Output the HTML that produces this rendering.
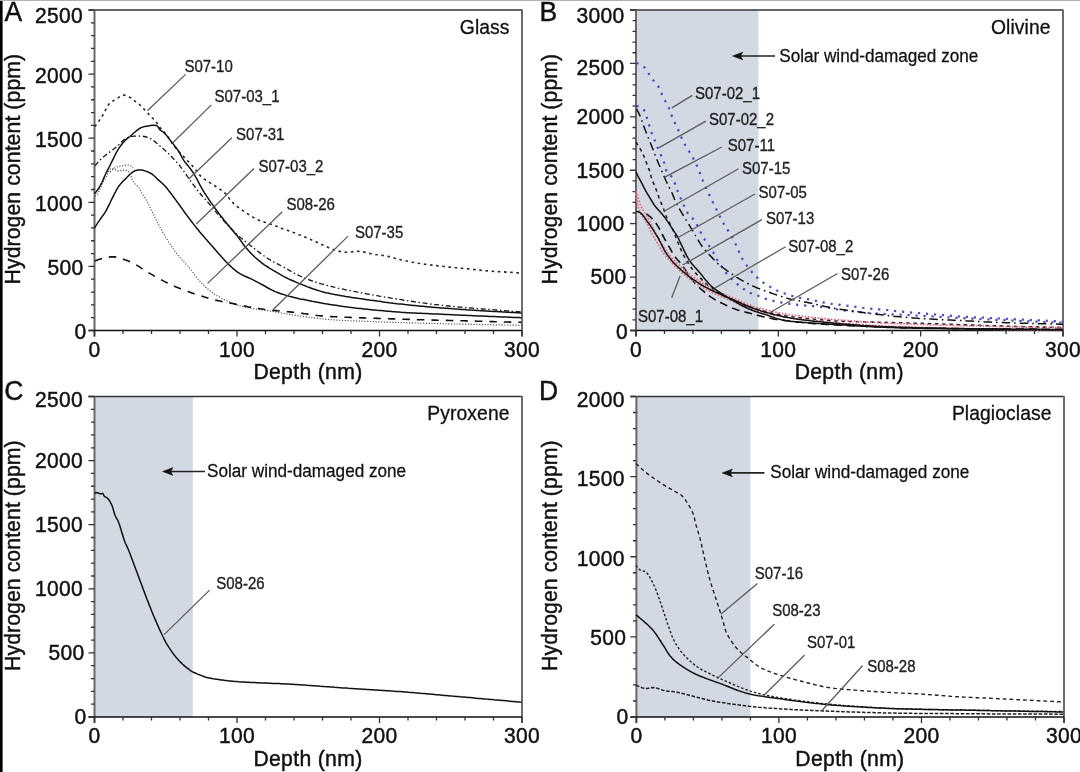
<!DOCTYPE html>
<html><head><meta charset="utf-8"><style>
html,body{margin:0;padding:0;background:#fff;}
body{width:1080px;height:772px;overflow:hidden;}
svg{display:block;}
text{font-family:"Liberation Sans", Arial, sans-serif;fill:#111;stroke:#111;stroke-width:0.45px;}
.tl{font-size:21px;letter-spacing:0.35px;}
.at{font-size:21.2px;letter-spacing:0.1px;}
.pn{font-size:19.3px;letter-spacing:0.1px;stroke-width:0.3px;}
.dx{letter-spacing:0.32px;}
.pl{font-size:26.5px;}
.sl{font-size:15px;fill:#222;stroke:#222;stroke-width:0.3px;}
.sw{font-size:17.15px;stroke-width:0.25px;}
</style></head><body>
<svg width="1080" height="772" viewBox="0 0 1080 772">
<rect x="0" y="0" width="1080" height="772" fill="#fff"/>
<rect x="0" y="0" width="1080" height="1" fill="#b2b2b2"/>
<rect x="0" y="1" width="2.6" height="772" fill="#000"/>
<path d="M88.5,10.0H522.0" fill="none" stroke="#333" stroke-width="1.3"/>
<path d="M522.0,9.4V336.5" fill="none" stroke="#6c6c6c" stroke-width="2"/>
<path d="M94.5,9.4V336.5" stroke="#686868" stroke-width="2"/>
<path d="M88.5,330.5H522.0" stroke="#111" stroke-width="1.3"/>
<path d="M88.5,330.50H94.5 M91.0,317.68H94.5 M91.0,304.86H94.5 M91.0,292.04H94.5 M91.0,279.22H94.5 M88.5,266.40H94.5 M91.0,253.58H94.5 M91.0,240.76H94.5 M91.0,227.94H94.5 M91.0,215.12H94.5 M88.5,202.30H94.5 M91.0,189.48H94.5 M91.0,176.66H94.5 M91.0,163.84H94.5 M91.0,151.02H94.5 M88.5,138.20H94.5 M91.0,125.38H94.5 M91.0,112.56H94.5 M91.0,99.74H94.5 M91.0,86.92H94.5 M88.5,74.10H94.5 M91.0,61.28H94.5 M91.0,48.46H94.5 M91.0,35.64H94.5 M91.0,22.82H94.5 M88.5,10.00H94.5" stroke="#333" stroke-width="1.3"/>
<path d="M94.50,330.5V336.5 M123.00,330.5V334.0 M151.50,330.5V334.0 M180.00,330.5V334.0 M208.50,330.5V334.0 M237.00,330.5V336.5 M265.50,330.5V334.0 M294.00,330.5V334.0 M322.50,330.5V334.0 M351.00,330.5V334.0 M379.50,330.5V336.5 M408.00,330.5V334.0 M436.50,330.5V334.0 M465.00,330.5V334.0 M493.50,330.5V334.0 M522.00,330.5V336.5" stroke="#333" stroke-width="1.3"/>
<text transform="translate(86.60,338.55) scale(1,1.05)" text-anchor="end" class="tl">0</text>
<text transform="translate(83.60,275.30) scale(1,1.05)" text-anchor="end" class="tl">500</text>
<text transform="translate(83.00,211.20) scale(1,1.05)" text-anchor="end" class="tl">1000</text>
<text transform="translate(83.00,147.10) scale(1,1.05)" text-anchor="end" class="tl">1500</text>
<text transform="translate(83.00,83.00) scale(1,1.05)" text-anchor="end" class="tl">2000</text>
<text transform="translate(83.00,22.60) scale(1,1.05)" text-anchor="end" class="tl">2500</text>
<text transform="translate(94.50,356.80) scale(1,1.05)" text-anchor="middle" class="tl">0</text>
<text transform="translate(237.00,356.80) scale(1,1.05)" text-anchor="middle" class="tl">100</text>
<text transform="translate(379.50,356.80) scale(1,1.05)" text-anchor="middle" class="tl">200</text>
<text transform="translate(522.00,356.80) scale(1,1.05)" text-anchor="middle" class="tl">300</text>
<text transform="translate(307.95,379.00) scale(1,1.04)" text-anchor="middle" class="at dx">Depth (nm)</text>
<text transform="translate(19.70,169.15) rotate(-90) scale(1,1.04)" text-anchor="middle" class="at">Hydrogen content (ppm)</text>
<text transform="translate(509.60,33.90) scale(1,1.04)" text-anchor="end" class="pn">Glass</text>
<text transform="translate(4.50,21.00) scale(1,1.03)" class="pl">A</text>
<rect x="636.0" y="10.0" width="122.41" height="320.5" fill="#d3d9e3"/>
<path d="M630.0,10.0H1063.0" fill="none" stroke="#333" stroke-width="1.3"/>
<path d="M1063.0,9.4V336.5" fill="none" stroke="#6c6c6c" stroke-width="2"/>
<path d="M636.0,9.4V336.5" stroke="#686868" stroke-width="2"/>
<path d="M630.0,330.5H1063.0" stroke="#111" stroke-width="1.3"/>
<path d="M630.0,330.50H636.0 M632.5,319.82H636.0 M632.5,309.13H636.0 M632.5,298.45H636.0 M632.5,287.77H636.0 M630.0,277.08H636.0 M632.5,266.40H636.0 M632.5,255.72H636.0 M632.5,245.03H636.0 M632.5,234.35H636.0 M630.0,223.67H636.0 M632.5,212.98H636.0 M632.5,202.30H636.0 M632.5,191.62H636.0 M632.5,180.93H636.0 M630.0,170.25H636.0 M632.5,159.57H636.0 M632.5,148.88H636.0 M632.5,138.20H636.0 M632.5,127.52H636.0 M630.0,116.83H636.0 M632.5,106.15H636.0 M632.5,95.47H636.0 M632.5,84.78H636.0 M632.5,74.10H636.0 M630.0,63.42H636.0 M632.5,52.73H636.0 M632.5,42.05H636.0 M632.5,31.37H636.0 M632.5,20.68H636.0 M630.0,10.00H636.0" stroke="#333" stroke-width="1.3"/>
<path d="M636.00,330.5V336.5 M664.47,330.5V334.0 M692.93,330.5V334.0 M721.40,330.5V334.0 M749.87,330.5V334.0 M778.33,330.5V336.5 M806.80,330.5V334.0 M835.27,330.5V334.0 M863.73,330.5V334.0 M892.20,330.5V334.0 M920.67,330.5V336.5 M949.13,330.5V334.0 M977.60,330.5V334.0 M1006.07,330.5V334.0 M1034.53,330.5V334.0 M1063.00,330.5V336.5" stroke="#333" stroke-width="1.3"/>
<text transform="translate(628.10,338.55) scale(1,1.05)" text-anchor="end" class="tl">0</text>
<text transform="translate(626.50,283.93) scale(1,1.05)" text-anchor="end" class="tl">500</text>
<text transform="translate(624.50,231.27) scale(1,1.05)" text-anchor="end" class="tl">1000</text>
<text transform="translate(624.50,177.85) scale(1,1.05)" text-anchor="end" class="tl">1500</text>
<text transform="translate(624.50,124.43) scale(1,1.05)" text-anchor="end" class="tl">2000</text>
<text transform="translate(624.50,74.52) scale(1,1.05)" text-anchor="end" class="tl">2500</text>
<text transform="translate(624.50,22.60) scale(1,1.05)" text-anchor="end" class="tl">3000</text>
<text transform="translate(636.00,356.80) scale(1,1.05)" text-anchor="middle" class="tl">0</text>
<text transform="translate(778.33,356.80) scale(1,1.05)" text-anchor="middle" class="tl">100</text>
<text transform="translate(920.67,356.80) scale(1,1.05)" text-anchor="middle" class="tl">200</text>
<text transform="translate(1063.00,356.80) scale(1,1.05)" text-anchor="middle" class="tl">300</text>
<text transform="translate(849.20,379.00) scale(1,1.04)" text-anchor="middle" class="at dx">Depth (nm)</text>
<text transform="translate(557.40,169.15) rotate(-90) scale(1,1.04)" text-anchor="middle" class="at">Hydrogen content (ppm)</text>
<text transform="translate(1050.60,33.90) scale(1,1.04)" text-anchor="end" class="pn">Olivine</text>
<text transform="translate(539.40,21.10) scale(1,1.03)" class="pl">B</text>
<rect x="94.5" y="396.5" width="98.32" height="320.5" fill="#d3d9e3"/>
<path d="M88.5,396.5H522.0" fill="none" stroke="#333" stroke-width="1.3"/>
<path d="M522.0,395.9V723.0" fill="none" stroke="#6c6c6c" stroke-width="2"/>
<path d="M94.5,395.9V723.0" stroke="#686868" stroke-width="2"/>
<path d="M88.5,717.0H522.0" stroke="#111" stroke-width="1.3"/>
<path d="M88.5,717.00H94.5 M91.0,704.18H94.5 M91.0,691.36H94.5 M91.0,678.54H94.5 M91.0,665.72H94.5 M88.5,652.90H94.5 M91.0,640.08H94.5 M91.0,627.26H94.5 M91.0,614.44H94.5 M91.0,601.62H94.5 M88.5,588.80H94.5 M91.0,575.98H94.5 M91.0,563.16H94.5 M91.0,550.34H94.5 M91.0,537.52H94.5 M88.5,524.70H94.5 M91.0,511.88H94.5 M91.0,499.06H94.5 M91.0,486.24H94.5 M91.0,473.42H94.5 M88.5,460.60H94.5 M91.0,447.78H94.5 M91.0,434.96H94.5 M91.0,422.14H94.5 M91.0,409.32H94.5 M88.5,396.50H94.5" stroke="#333" stroke-width="1.3"/>
<path d="M94.50,717.0V723.0 M123.00,717.0V720.5 M151.50,717.0V720.5 M180.00,717.0V720.5 M208.50,717.0V720.5 M237.00,717.0V723.0 M265.50,717.0V720.5 M294.00,717.0V720.5 M322.50,717.0V720.5 M351.00,717.0V720.5 M379.50,717.0V723.0 M408.00,717.0V720.5 M436.50,717.0V720.5 M465.00,717.0V720.5 M493.50,717.0V720.5 M522.00,717.0V723.0" stroke="#333" stroke-width="1.3"/>
<text transform="translate(86.60,723.50) scale(1,1.05)" text-anchor="end" class="tl">0</text>
<text transform="translate(84.60,660.30) scale(1,1.05)" text-anchor="end" class="tl">500</text>
<text transform="translate(83.00,596.20) scale(1,1.05)" text-anchor="end" class="tl">1000</text>
<text transform="translate(83.00,532.10) scale(1,1.05)" text-anchor="end" class="tl">1500</text>
<text transform="translate(83.00,468.00) scale(1,1.05)" text-anchor="end" class="tl">2000</text>
<text transform="translate(83.00,407.20) scale(1,1.05)" text-anchor="end" class="tl">2500</text>
<text transform="translate(94.50,743.30) scale(1,1.05)" text-anchor="middle" class="tl">0</text>
<text transform="translate(237.00,743.30) scale(1,1.05)" text-anchor="middle" class="tl">100</text>
<text transform="translate(379.50,743.30) scale(1,1.05)" text-anchor="middle" class="tl">200</text>
<text transform="translate(522.00,743.30) scale(1,1.05)" text-anchor="middle" class="tl">300</text>
<text transform="translate(307.95,765.50) scale(1,1.04)" text-anchor="middle" class="at dx">Depth (nm)</text>
<text transform="translate(19.70,555.65) rotate(-90) scale(1,1.04)" text-anchor="middle" class="at">Hydrogen content (ppm)</text>
<text transform="translate(509.60,420.40) scale(1,1.04)" text-anchor="end" class="pn">Pyroxene</text>
<text transform="translate(4.30,400.30) scale(1,1.03)" class="pl">C</text>
<rect x="636.4" y="396.5" width="114.03" height="320.5" fill="#d3d9e3"/>
<path d="M630.4,396.5H1064.0" fill="none" stroke="#333" stroke-width="1.3"/>
<path d="M1064.0,395.9V723.0" fill="none" stroke="#6c6c6c" stroke-width="2"/>
<path d="M636.4,395.9V723.0" stroke="#686868" stroke-width="2"/>
<path d="M630.4,717.0H1064.0" stroke="#111" stroke-width="1.3"/>
<path d="M630.4,717.00H636.4 M632.9,700.98H636.4 M632.9,684.95H636.4 M632.9,668.92H636.4 M632.9,652.90H636.4 M630.4,636.88H636.4 M632.9,620.85H636.4 M632.9,604.83H636.4 M632.9,588.80H636.4 M632.9,572.77H636.4 M630.4,556.75H636.4 M632.9,540.73H636.4 M632.9,524.70H636.4 M632.9,508.68H636.4 M632.9,492.65H636.4 M630.4,476.62H636.4 M632.9,460.60H636.4 M632.9,444.57H636.4 M632.9,428.55H636.4 M632.9,412.52H636.4 M630.4,396.50H636.4" stroke="#333" stroke-width="1.3"/>
<path d="M636.40,717.0V723.0 M664.91,717.0V720.5 M693.41,717.0V720.5 M721.92,717.0V720.5 M750.43,717.0V720.5 M778.93,717.0V723.0 M807.44,717.0V720.5 M835.95,717.0V720.5 M864.45,717.0V720.5 M892.96,717.0V720.5 M921.47,717.0V723.0 M949.97,717.0V720.5 M978.48,717.0V720.5 M1006.99,717.0V720.5 M1035.49,717.0V720.5 M1064.00,717.0V723.0" stroke="#333" stroke-width="1.3"/>
<text transform="translate(628.50,723.50) scale(1,1.05)" text-anchor="end" class="tl">0</text>
<text transform="translate(626.20,644.77) scale(1,1.05)" text-anchor="end" class="tl">500</text>
<text transform="translate(624.90,566.15) scale(1,1.05)" text-anchor="end" class="tl">1000</text>
<text transform="translate(624.90,486.02) scale(1,1.05)" text-anchor="end" class="tl">1500</text>
<text transform="translate(624.90,407.20) scale(1,1.05)" text-anchor="end" class="tl">2000</text>
<text transform="translate(636.40,743.30) scale(1,1.05)" text-anchor="middle" class="tl">0</text>
<text transform="translate(778.93,743.30) scale(1,1.05)" text-anchor="middle" class="tl">100</text>
<text transform="translate(921.47,743.30) scale(1,1.05)" text-anchor="middle" class="tl">200</text>
<text transform="translate(1064.00,743.30) scale(1,1.05)" text-anchor="middle" class="tl">300</text>
<text transform="translate(849.90,765.50) scale(1,1.04)" text-anchor="middle" class="at dx">Depth (nm)</text>
<text transform="translate(557.40,555.65) rotate(-90) scale(1,1.04)" text-anchor="middle" class="at">Hydrogen content (ppm)</text>
<text transform="translate(1051.60,420.40) scale(1,1.04)" text-anchor="end" class="pn">Plagioclase</text>
<text transform="translate(539.00,399.50) scale(1,1.03)" class="pl">D</text>
<path d="M94.8,126.6 96.1,124.9 97.2,123.4 98.4,121.8 99.5,120.1 100.7,118.5 101.8,116.8 102.8,115.1 103.8,113.4 104.7,111.6 105.6,109.8 106.5,108.0 107.5,106.3 108.6,104.6 109.9,103.1 111.4,101.9 113.1,100.9 114.9,99.9 116.6,98.9 118.2,97.8 119.9,96.6 121.6,95.6 123.4,95.1 125.2,95.4 127.1,96.1 128.9,96.9 130.7,97.8 132.3,98.9 133.8,100.2 135.3,101.5 136.9,102.7 138.5,103.9 140.1,105.2 141.5,106.6 142.9,108.0 144.3,109.4 145.7,110.9 147.0,112.3 148.4,113.8 149.7,115.3 151.1,116.7 152.5,118.1 154.0,119.5 155.3,121.0 156.5,122.6 157.7,124.2 158.8,125.9 160.0,127.5 161.3,129.0 162.7,130.4 164.1,131.9 165.4,133.4 166.6,134.9 167.8,136.6 168.9,138.2 170.0,139.9 171.1,141.6 172.2,143.2 173.4,144.9 174.6,146.5 175.8,148.1 177.0,149.6 178.3,151.1 179.7,152.6 181.0,154.1 182.5,155.5 183.9,156.9 185.3,158.3 186.7,159.7 188.1,161.2 189.4,162.7 190.8,164.1 192.1,165.6 193.4,167.1 194.7,168.7 195.9,170.2 197.1,171.8 198.4,173.4 199.7,174.9 201.0,176.4 202.5,177.7 204.1,179.0 205.7,180.1 207.4,181.2 209.1,182.2 210.8,183.3 212.5,184.4 214.2,185.5 215.8,186.5 217.5,187.6 219.2,188.7 220.9,189.8 222.5,191.0 224.0,192.3 225.5,193.6 226.8,195.1 228.0,196.7 229.1,198.4 230.3,200.0 231.6,201.5 233.0,202.9 234.5,204.3 236.0,205.6 237.6,206.8 239.2,208.0 240.8,209.2 242.4,210.3 244.1,211.5 245.7,212.6 247.4,213.7 249.1,214.8 250.8,215.8 252.5,216.9 254.2,217.8 256.0,218.8 257.8,219.7 259.6,220.5 261.5,221.2 263.4,221.8 265.3,222.4 267.2,223.0 269.1,223.6 271.0,224.2 272.9,224.9 274.8,225.6 276.6,226.3 278.5,227.0 280.4,227.7 282.2,228.5 284.1,229.2 286.0,229.9 287.9,230.5 289.7,231.2 291.6,231.9 293.5,232.6 295.4,233.2 297.3,233.9 299.1,234.7 301.0,235.4 302.8,236.2 304.7,236.9 306.5,237.7 308.4,238.5 310.2,239.3 312.0,240.1 313.8,241.0 315.7,241.8 317.5,242.6 319.3,243.4 321.1,244.2 323.0,245.1 324.8,245.9 326.6,246.7 328.4,247.6 330.3,248.3 332.1,249.0 334.0,249.7 335.9,250.3 337.8,250.9 339.8,251.4 341.7,251.8 343.7,252.1 345.7,252.2 347.7,252.2 349.7,252.1 351.7,251.9 353.7,251.6 355.7,251.4 357.7,251.3 359.6,251.3 361.6,251.5 363.6,251.9 365.5,252.4 367.5,252.9 369.4,253.4 371.3,253.8 373.3,254.2 375.3,254.5 377.3,254.7 379.3,255.0 381.2,255.2 383.2,255.5 385.2,255.8 387.2,256.2 389.1,256.6 391.1,257.1 393.0,257.6 394.9,258.2 396.8,258.7 398.8,259.2 400.7,259.7 402.7,260.1 404.6,260.6 406.6,261.0 408.5,261.4 410.5,261.8 412.5,262.2 414.4,262.5 416.4,262.8 418.4,263.2 420.4,263.5 422.3,263.8 424.3,264.1 426.3,264.3 428.3,264.6 430.3,264.9 432.2,265.1 434.2,265.4 436.2,265.6 438.2,265.9 440.2,266.1 442.2,266.3 444.2,266.5 446.1,266.7 448.1,266.9 450.1,267.1 452.1,267.3 454.1,267.5 456.1,267.7 458.1,267.9 460.1,268.1 462.1,268.3 464.1,268.5 466.0,268.7 468.0,268.9 470.0,269.1 472.0,269.3 474.0,269.5 476.0,269.7 478.0,269.9 480.0,270.1 482.0,270.4 484.0,270.6 485.9,270.8 487.9,270.9 489.9,271.1 491.9,271.3 493.9,271.4 495.9,271.5 497.9,271.6 499.9,271.7 501.9,271.8 503.9,271.9 505.9,272.1 507.9,272.2 509.9,272.3 511.9,272.4 513.9,272.6 515.9,272.7 517.9,272.9 519.7,273.0 521.5,273.1" stroke="#262626" stroke-width="1.6" fill="none" stroke-dasharray="2.6 3.6"/>
<path d="M94.5,193.7 95.9,192.1 97.0,190.6 98.2,189.0 99.4,187.4 100.3,185.6 101.2,183.8 102.1,182.0 102.9,180.2 103.7,178.4 104.5,176.5 105.3,174.7 106.2,172.9 107.1,171.1 108.0,169.3 108.9,167.6 109.8,165.8 110.7,164.0 111.6,162.2 112.5,160.4 113.3,158.6 114.2,156.8 115.1,155.0 116.0,153.2 116.9,151.5 118.0,149.7 119.0,148.1 120.2,146.4 121.4,144.8 122.6,143.2 123.9,141.7 125.3,140.3 126.8,138.9 128.4,137.7 129.9,136.5 131.4,135.2 132.9,133.8 134.4,132.5 135.9,131.2 137.4,129.9 139.1,128.8 140.8,127.8 142.7,127.1 144.6,126.6 146.6,126.2 148.6,125.9 150.5,125.6 152.5,125.3 154.5,125.2 156.4,125.4 157.8,126.4 158.7,128.0 159.9,129.6 161.4,130.8 163.0,132.0 164.5,133.2 165.9,134.7 167.2,136.2 168.4,137.8 169.6,139.4 170.8,141.0 172.0,142.6 173.3,144.1 174.5,145.7 175.8,147.3 177.0,148.9 178.1,150.5 179.2,152.2 180.2,153.9 181.1,155.7 182.0,157.5 183.0,159.2 184.1,160.9 185.3,162.5 186.6,164.0 187.9,165.5 189.1,167.1 190.3,168.7 191.5,170.3 192.7,172.0 193.8,173.6 194.8,175.3 195.8,177.1 196.8,178.8 197.7,180.6 198.6,182.4 199.5,184.1 200.4,185.9 201.4,187.7 202.4,189.4 203.5,191.1 204.5,192.8 205.6,194.5 206.7,196.1 207.8,197.8 208.9,199.5 210.1,201.1 211.2,202.8 212.3,204.4 213.5,206.0 214.7,207.7 215.8,209.3 217.0,210.9 218.2,212.5 219.4,214.1 220.6,215.7 221.9,217.3 223.1,218.8 224.3,220.4 225.6,222.0 226.8,223.5 228.1,225.1 229.4,226.6 230.7,228.2 231.9,229.7 233.2,231.2 234.5,232.7 235.8,234.3 237.1,235.8 238.3,237.4 239.5,239.0 240.7,240.6 241.8,242.2 243.0,243.9 244.2,245.5 245.4,247.1 246.7,248.6 248.0,250.1 249.4,251.6 250.7,253.0 252.1,254.5 253.6,255.9 255.0,257.2 256.5,258.5 258.0,259.9 259.6,261.1 261.1,262.4 262.7,263.6 264.3,264.8 266.0,265.9 267.7,267.0 269.4,268.1 271.1,269.1 272.8,270.1 274.6,271.1 276.3,272.1 278.0,273.1 279.7,274.2 281.4,275.2 283.1,276.2 284.9,277.1 286.7,278.0 288.5,278.9 290.3,279.7 292.1,280.5 294.0,281.3 295.8,282.1 297.7,282.9 299.5,283.6 301.4,284.3 303.2,285.1 305.1,285.8 307.0,286.6 308.8,287.3 310.7,288.0 312.6,288.7 314.5,289.3 316.4,290.0 318.3,290.6 320.2,291.1 322.1,291.7 324.0,292.2 326.0,292.7 327.9,293.1 329.9,293.6 331.8,294.0 333.8,294.3 335.8,294.7 337.7,295.1 339.7,295.4 341.7,295.8 343.6,296.1 345.6,296.5 347.6,296.8 349.6,297.1 351.5,297.4 353.5,297.7 355.5,298.0 357.5,298.3 359.5,298.6 361.4,298.8 363.4,299.1 365.4,299.4 367.4,299.7 369.4,300.0 371.3,300.2 373.3,300.5 375.3,300.8 377.3,301.1 379.3,301.3 381.2,301.6 383.2,301.9 385.2,302.2 387.2,302.4 389.2,302.7 391.2,302.9 393.1,303.2 395.1,303.4 397.1,303.7 399.1,303.9 401.1,304.1 403.1,304.3 405.1,304.6 407.1,304.8 409.0,305.0 411.0,305.2 413.0,305.4 415.0,305.6 417.0,305.8 419.0,306.0 421.0,306.2 423.0,306.3 425.0,306.5 427.0,306.7 429.0,306.9 430.9,307.0 432.9,307.2 434.9,307.4 436.9,307.6 438.9,307.7 440.9,307.9 442.9,308.0 444.9,308.2 446.9,308.3 448.9,308.5 450.9,308.6 452.9,308.8 454.9,308.9 456.9,309.1 458.9,309.2 460.9,309.4 462.8,309.5 464.8,309.6 466.8,309.8 468.8,309.9 470.8,310.1 472.8,310.2 474.8,310.3 476.8,310.4 478.8,310.6 480.8,310.7 482.8,310.8 484.8,310.9 486.8,311.0 488.8,311.2 490.8,311.3 492.8,311.4 494.8,311.5 496.8,311.6 498.8,311.7 500.8,311.8 502.8,312.0 504.8,312.1 506.8,312.2 508.8,312.3 510.8,312.4 512.8,312.5 514.8,312.6 516.7,312.7 518.7,312.8 520.2,312.9 521.5,313.0" stroke="#111" stroke-width="1.5" fill="none"/>
<path d="M95.1,165.7 96.4,164.1 97.6,162.6 99.0,161.1 100.4,159.7 101.8,158.3 103.3,157.0 104.9,155.7 106.4,154.5 108.0,153.3 109.6,152.1 111.2,150.9 112.8,149.7 114.4,148.5 116.0,147.2 117.4,145.9 118.9,144.5 120.3,143.1 121.8,141.7 123.3,140.4 124.9,139.2 126.6,138.2 128.4,137.4 130.3,136.8 132.3,136.4 134.3,136.2 136.3,136.1 138.3,136.0 140.3,136.1 142.3,136.2 144.2,136.5 146.2,137.0 148.1,137.6 149.9,138.3 151.7,139.3 153.3,140.4 154.9,141.6 156.4,142.9 157.9,144.2 159.5,145.5 161.0,146.8 162.5,148.1 164.0,149.4 165.5,150.8 167.0,152.1 168.4,153.5 169.8,154.9 171.2,156.3 172.6,157.8 174.0,159.2 175.4,160.7 176.7,162.2 178.1,163.7 179.3,165.2 180.6,166.8 181.8,168.4 183.0,170.0 184.1,171.6 185.3,173.3 186.4,174.9 187.5,176.6 188.6,178.2 189.8,179.9 190.9,181.5 192.1,183.1 193.3,184.7 194.5,186.3 195.7,187.9 196.9,189.5 198.1,191.1 199.4,192.6 200.7,194.2 201.9,195.7 203.3,197.2 204.6,198.7 206.0,200.2 207.3,201.6 208.7,203.1 210.0,204.7 211.2,206.2 212.5,207.7 213.7,209.3 215.0,210.9 216.3,212.4 217.6,213.9 218.9,215.4 220.2,216.9 221.5,218.4 222.9,219.9 224.3,221.4 225.6,222.8 227.0,224.2 228.4,225.7 229.8,227.1 231.2,228.5 232.6,230.0 234.0,231.4 235.5,232.8 236.9,234.2 238.4,235.5 239.8,236.9 241.3,238.2 242.8,239.5 244.4,240.8 246.0,242.0 247.5,243.2 249.1,244.5 250.7,245.7 252.3,246.9 253.9,248.2 255.4,249.4 257.0,250.6 258.6,251.9 260.2,253.1 261.8,254.3 263.4,255.5 265.0,256.6 266.7,257.8 268.3,258.8 270.1,259.9 271.8,260.9 273.5,261.8 275.3,262.8 277.1,263.7 278.9,264.6 280.6,265.5 282.4,266.4 284.2,267.4 285.9,268.4 287.7,269.4 289.4,270.4 291.1,271.4 292.9,272.3 294.6,273.3 296.4,274.2 298.2,275.1 300.0,276.0 301.8,276.8 303.6,277.6 305.5,278.3 307.4,279.1 309.2,279.8 311.1,280.5 313.0,281.1 314.9,281.8 316.8,282.4 318.7,283.1 320.6,283.7 322.5,284.2 324.4,284.8 326.3,285.3 328.3,285.8 330.2,286.3 332.2,286.7 334.1,287.2 336.1,287.6 338.0,288.1 340.0,288.5 341.9,288.9 343.9,289.3 345.8,289.8 347.8,290.2 349.8,290.6 351.7,291.0 353.7,291.4 355.6,291.7 357.6,292.1 359.6,292.5 361.5,292.9 363.5,293.3 365.5,293.6 367.4,294.0 369.4,294.3 371.4,294.7 373.3,295.1 375.3,295.4 377.3,295.7 379.2,296.1 381.2,296.4 383.2,296.8 385.2,297.1 387.1,297.4 389.1,297.7 391.1,298.1 393.1,298.4 395.0,298.7 397.0,299.0 399.0,299.3 401.0,299.6 402.9,300.0 404.9,300.3 406.9,300.6 408.9,300.9 410.8,301.2 412.8,301.5 414.8,301.8 416.8,302.1 418.7,302.4 420.7,302.6 422.7,302.9 424.7,303.2 426.7,303.5 428.7,303.7 430.6,304.0 432.6,304.2 434.6,304.5 436.6,304.7 438.6,304.9 440.6,305.2 442.6,305.4 444.5,305.6 446.5,305.8 448.5,306.0 450.5,306.2 452.5,306.4 454.5,306.6 456.5,306.8 458.5,307.0 460.5,307.1 462.5,307.3 464.5,307.5 466.4,307.7 468.4,307.9 470.4,308.0 472.4,308.2 474.4,308.4 476.4,308.5 478.4,308.7 480.4,308.9 482.4,309.0 484.4,309.2 486.4,309.3 488.4,309.4 490.4,309.6 492.4,309.7 494.4,309.9 496.4,310.0 498.3,310.2 500.3,310.3 502.3,310.5 504.3,310.6 506.3,310.8 508.3,311.0 510.3,311.1 512.3,311.3 514.3,311.4 516.3,311.6 518.3,311.7 520.1,311.9 521.5,312.0" stroke="#1a1a1a" stroke-width="1.35" fill="none" stroke-dasharray="5 2.6 1.5 2.6"/>
<path d="M94.5,228.0 95.6,226.2 96.7,224.6 97.7,222.9 98.8,221.3 99.9,219.6 101.1,218.0 102.3,216.4 103.5,214.8 104.6,213.1 105.7,211.4 106.6,209.7 107.5,207.9 108.4,206.1 109.3,204.3 110.2,202.5 111.0,200.7 111.9,198.9 112.8,197.1 113.7,195.3 114.6,193.5 115.5,191.8 116.4,190.0 117.4,188.3 118.5,186.6 119.7,185.0 121.0,183.4 122.3,182.0 123.7,180.5 125.2,179.1 126.6,177.7 128.0,176.3 129.4,174.9 130.9,173.5 132.4,172.3 134.1,171.2 135.9,170.4 137.8,170.0 139.8,169.9 141.8,170.1 143.7,170.5 145.6,171.1 147.5,171.8 149.4,172.6 151.1,173.5 152.7,174.7 154.3,176.0 155.7,177.3 157.1,178.7 158.6,180.1 160.1,181.4 161.6,182.8 163.1,184.1 164.5,185.5 165.8,187.0 167.1,188.5 168.4,190.1 169.6,191.7 170.8,193.3 172.0,194.9 173.2,196.5 174.4,198.1 175.6,199.7 176.7,201.3 177.9,202.9 179.1,204.5 180.3,206.2 181.4,207.8 182.6,209.4 183.7,211.0 184.9,212.7 186.1,214.3 187.3,215.9 188.5,217.5 189.7,219.1 190.9,220.7 192.1,222.3 193.3,223.9 194.5,225.4 195.8,227.0 197.0,228.6 198.3,230.1 199.6,231.7 200.9,233.2 202.2,234.7 203.5,236.2 204.8,237.7 206.1,239.3 207.4,240.8 208.7,242.3 210.0,243.8 211.4,245.3 212.7,246.8 214.0,248.3 215.3,249.8 216.6,251.3 217.9,252.8 219.3,254.3 220.6,255.8 221.9,257.3 223.3,258.8 224.6,260.2 226.0,261.7 227.4,263.1 228.8,264.6 230.2,265.9 231.7,267.3 233.2,268.6 234.7,269.9 236.3,271.1 237.9,272.3 239.6,273.4 241.3,274.4 243.1,275.3 244.9,276.2 246.7,277.0 248.6,277.8 250.4,278.6 252.2,279.4 254.0,280.3 255.8,281.3 257.5,282.2 259.3,283.1 261.1,284.1 262.8,285.0 264.6,286.0 266.3,287.0 268.0,288.0 269.8,289.0 271.6,289.9 273.4,290.8 275.2,291.6 277.0,292.3 278.9,293.0 280.8,293.7 282.7,294.3 284.6,294.9 286.5,295.5 288.5,296.0 290.4,296.6 292.3,297.1 294.3,297.6 296.2,298.0 298.2,298.4 300.1,298.9 302.1,299.2 304.0,299.6 306.0,300.0 308.0,300.4 309.9,300.8 311.9,301.2 313.8,301.5 315.8,301.9 317.8,302.3 319.7,302.7 321.7,303.1 323.7,303.4 325.6,303.8 327.6,304.1 329.6,304.4 331.6,304.7 333.5,305.0 335.5,305.3 337.5,305.6 339.5,305.9 341.5,306.2 343.4,306.5 345.4,306.7 347.4,307.0 349.4,307.2 351.4,307.5 353.4,307.7 355.3,308.0 357.3,308.2 359.3,308.4 361.3,308.6 363.3,308.9 365.3,309.1 367.3,309.3 369.3,309.5 371.2,309.7 373.2,309.9 375.2,310.1 377.2,310.3 379.2,310.4 381.2,310.6 383.2,310.8 385.2,311.0 387.2,311.2 389.2,311.3 391.2,311.5 393.2,311.7 395.2,311.8 397.1,312.0 399.1,312.1 401.1,312.3 403.1,312.4 405.1,312.5 407.1,312.7 409.1,312.8 411.1,312.9 413.1,313.0 415.1,313.1 417.1,313.2 419.1,313.3 421.1,313.3 423.1,313.4 425.1,313.5 427.1,313.6 429.1,313.7 431.1,313.8 433.1,313.9 435.1,314.0 437.1,314.1 439.1,314.1 441.1,314.2 443.1,314.3 445.1,314.4 447.1,314.5 449.1,314.6 451.1,314.7 453.1,314.8 455.1,314.9 457.1,315.0 459.1,315.1 461.1,315.2 463.1,315.2 465.1,315.3 467.1,315.4 469.1,315.5 471.1,315.6 473.1,315.7 475.1,315.8 477.0,315.9 479.0,316.0 481.0,316.0 483.0,316.1 485.0,316.2 487.0,316.3 489.0,316.4 491.0,316.5 493.0,316.5 495.0,316.6 497.0,316.7 499.0,316.8 501.0,316.9 503.0,317.0 505.0,317.0 507.0,317.1 509.0,317.2 511.0,317.3 513.0,317.4 515.0,317.4 517.0,317.5 519.0,317.6 520.4,317.7 521.5,317.7" stroke="#111" stroke-width="1.5" fill="none"/>
<path d="M94.8,196.0 96.6,195.0 97.7,193.6 98.7,191.9 99.5,190.1 100.3,188.3 101.1,186.4 102.0,184.6 102.8,182.8 103.7,181.0 104.7,179.3 105.6,177.5 106.6,175.8 107.5,174.0 108.4,172.2 109.4,170.5 110.6,169.0 112.1,168.4 113.9,168.9 115.5,169.9 117.3,170.7 119.2,170.9 121.1,170.5 123.1,170.2 125.0,170.1 126.9,170.6 128.6,171.6 130.0,173.0 130.7,174.7 131.2,176.6 131.7,178.6 132.6,180.3 133.7,182.0 134.9,183.6 136.3,185.0 137.7,186.4 139.0,187.9 140.0,189.6 140.8,191.4 141.7,193.2 142.9,194.8 144.1,196.4 145.2,198.1 146.2,199.8 147.1,201.6 148.0,203.4 148.9,205.2 149.8,207.0 150.6,208.7 151.5,210.5 152.4,212.3 153.3,214.1 154.2,215.9 155.1,217.7 156.0,219.5 156.9,221.3 157.8,223.0 158.7,224.8 159.6,226.6 160.6,228.4 161.5,230.1 162.5,231.9 163.5,233.6 164.6,235.3 165.6,237.0 166.7,238.7 167.8,240.4 168.8,242.1 169.9,243.8 171.0,245.5 172.1,247.1 173.2,248.8 174.3,250.4 175.5,252.0 176.7,253.6 178.0,255.2 179.3,256.7 180.6,258.2 181.9,259.7 183.3,261.2 184.6,262.6 186.0,264.1 187.4,265.6 188.7,267.0 190.0,268.6 191.3,270.1 192.5,271.7 193.6,273.4 194.8,275.0 196.0,276.6 197.2,278.2 198.4,279.7 199.8,281.2 201.2,282.7 202.6,284.1 204.0,285.5 205.4,286.9 206.9,288.2 208.4,289.5 210.0,290.8 211.5,292.0 213.2,293.2 214.8,294.3 216.5,295.4 218.2,296.4 220.0,297.4 221.7,298.3 223.5,299.2 225.3,300.1 227.2,300.9 229.0,301.7 230.8,302.5 232.7,303.2 234.6,303.9 236.4,304.6 238.3,305.2 240.3,305.8 242.2,306.3 244.1,306.7 246.1,307.2 248.1,307.6 250.0,308.0 252.0,308.4 253.9,308.7 255.9,309.0 257.9,309.3 259.9,309.6 261.9,309.8 263.8,310.1 265.8,310.4 267.8,310.7 269.8,311.0 271.8,311.3 273.7,311.6 275.7,311.9 277.7,312.3 279.6,312.6 281.6,313.0 283.6,313.3 285.6,313.7 287.5,314.0 289.5,314.3 291.5,314.7 293.4,315.0 295.4,315.3 297.4,315.6 299.4,315.9 301.4,316.2 303.3,316.5 305.3,316.8 307.3,317.0 309.3,317.3 311.3,317.6 313.2,317.8 315.2,318.1 317.2,318.3 319.2,318.6 321.2,318.8 323.2,319.0 325.2,319.2 327.2,319.4 329.2,319.5 331.1,319.7 333.1,319.8 335.1,320.0 337.1,320.1 339.1,320.2 341.1,320.3 343.1,320.4 345.1,320.5 347.1,320.6 349.1,320.7 351.1,320.8 353.1,320.8 355.1,320.9 357.1,321.0 359.1,321.1 361.1,321.2 363.1,321.2 365.1,321.3 367.1,321.4 369.1,321.5 371.1,321.5 373.1,321.6 375.1,321.7 377.1,321.8 379.1,321.9 381.1,321.9 383.1,322.0 385.1,322.1 387.1,322.1 389.1,322.2 391.1,322.3 393.1,322.3 395.1,322.4 397.1,322.5 399.1,322.5 401.1,322.6 403.1,322.7 405.1,322.7 407.1,322.8 409.1,322.8 411.1,322.9 413.1,322.9 415.1,323.0 417.1,323.1 419.1,323.1 421.1,323.2 423.1,323.2 425.1,323.3 427.1,323.3 429.1,323.4 431.1,323.4 433.1,323.5 435.1,323.5 437.1,323.6 439.1,323.6 441.1,323.7 443.1,323.7 445.1,323.8 447.1,323.8 449.1,323.8 451.1,323.9 453.1,323.9 455.1,324.0 457.1,324.0 459.1,324.1 461.1,324.1 463.1,324.1 465.1,324.2 467.1,324.2 469.1,324.3 471.1,324.3 473.1,324.4 475.1,324.4 477.1,324.4 479.1,324.5 481.1,324.5 483.1,324.6 485.1,324.6 487.1,324.6 489.1,324.7 491.1,324.7 493.1,324.8 495.1,324.8 497.1,324.8 499.1,324.9 501.1,324.9 503.1,325.0 505.1,325.0 507.1,325.0 509.1,325.1 511.1,325.1 513.1,325.1 515.1,325.2 517.0,325.2 519.0,325.3 520.5,325.3 521.5,325.3" stroke="#555" stroke-width="1.2" fill="none" stroke-dasharray="1.2 1.6"/>
<path d="M110.0,172.0 111.6,170.6 113.0,169.3 114.5,168.1 116.2,167.1 118.1,166.5 120.1,166.2 122.0,165.9 124.0,165.6 126.0,165.2 127.9,165.0 129.8,165.4 131.4,166.3 132.4,167.3 133.0,168.0" stroke="#555" stroke-width="1.2" fill="none" stroke-dasharray="1.2 1.6"/>
<path d="M94.8,260.9 96.8,260.2 98.6,259.6 100.5,259.0 102.4,258.5 104.4,258.0 106.3,257.5 108.3,257.2 110.3,256.9 112.2,256.8 114.2,256.9 116.2,257.1 118.1,257.6 120.1,258.2 122.0,258.8 123.9,259.4 125.8,260.0 127.7,260.7 129.5,261.4 131.4,262.2 133.2,263.1 134.9,264.0 136.6,265.1 138.3,266.1 140.0,267.2 141.6,268.3 143.3,269.4 145.0,270.5 146.7,271.5 148.4,272.6 150.2,273.6 151.9,274.6 153.6,275.6 155.4,276.6 157.1,277.5 158.9,278.5 160.6,279.5 162.4,280.4 164.1,281.4 165.9,282.2 167.7,283.1 169.5,283.9 171.4,284.8 173.2,285.6 175.0,286.5 176.8,287.3 178.7,288.0 180.5,288.8 182.4,289.4 184.3,290.1 186.2,290.8 188.0,291.5 189.9,292.2 191.8,292.9 193.7,293.6 195.6,294.2 197.5,294.8 199.4,295.4 201.3,296.0 203.2,296.6 205.1,297.2 207.0,297.8 208.9,298.4 210.9,298.9 212.8,299.5 214.7,300.0 216.7,300.4 218.6,300.8 220.6,301.2 222.6,301.6 224.5,301.9 226.5,302.3 228.5,302.7 230.4,303.1 232.4,303.5 234.3,303.9 236.3,304.4 238.2,304.8 240.2,305.2 242.1,305.6 244.1,306.0 246.1,306.4 248.0,306.8 250.0,307.1 252.0,307.5 253.9,307.8 255.9,308.1 257.9,308.4 259.9,308.7 261.9,309.0 263.8,309.3 265.8,309.5 267.8,309.7 269.8,309.9 271.8,310.2 273.8,310.4 275.8,310.6 277.8,310.8 279.7,311.0 281.7,311.1 283.7,311.3 285.7,311.5 287.7,311.7 289.7,311.9 291.7,312.1 293.7,312.3 295.7,312.5 297.6,312.8 299.6,313.1 301.6,313.3 303.6,313.6 305.6,313.8 307.6,314.1 309.5,314.4 311.5,314.7 313.5,315.0 315.5,315.2 317.5,315.5 319.4,315.7 321.4,315.9 323.4,316.1 325.4,316.3 327.4,316.4 329.4,316.5 331.4,316.6 333.4,316.7 335.4,316.8 337.4,316.9 339.4,317.0 341.4,317.1 343.4,317.2 345.4,317.2 347.4,317.3 349.4,317.4 351.4,317.5 353.4,317.6 355.4,317.6 357.4,317.7 359.4,317.8 361.4,317.9 363.4,317.9 365.4,318.0 367.4,318.1 369.4,318.1 371.4,318.2 373.4,318.3 375.4,318.3 377.4,318.4 379.4,318.5 381.4,318.6 383.4,318.6 385.4,318.7 387.4,318.8 389.4,318.8 391.4,318.9 393.4,318.9 395.4,319.0 397.4,319.1 399.4,319.1 401.4,319.2 403.4,319.3 405.4,319.3 407.4,319.4 409.4,319.4 411.4,319.5 413.4,319.6 415.4,319.6 417.4,319.7 419.4,319.7 421.4,319.8 423.4,319.8 425.4,319.9 427.4,319.9 429.4,320.0 431.4,320.0 433.4,320.1 435.4,320.1 437.4,320.2 439.4,320.2 441.4,320.3 443.4,320.3 445.4,320.4 447.4,320.4 449.3,320.5 451.3,320.5 453.3,320.6 455.3,320.6 457.3,320.7 459.3,320.7 461.3,320.8 463.3,320.8 465.3,320.9 467.3,320.9 469.3,321.0 471.3,321.0 473.3,321.1 475.3,321.1 477.3,321.2 479.3,321.2 481.3,321.3 483.3,321.4 485.3,321.4 487.3,321.5 489.3,321.5 491.3,321.6 493.3,321.6 495.3,321.7 497.3,321.7 499.3,321.8 501.3,321.8 503.3,321.9 505.3,322.0 507.3,322.0 509.3,322.1 511.3,322.1 513.3,322.2 515.3,322.2 517.3,322.3 519.2,322.3 521.3,322.4" stroke="#111" stroke-width="1.6" fill="none" stroke-dasharray="7.5 7"/>
<text transform="translate(184.40,71.90) scale(1,1.06)" class="sl">S07-10</text>
<path d="M185.6,74.4L147.4,110.7" stroke="#5c5c5c" stroke-width="1.3"/>
<text transform="translate(214.50,101.70) scale(1,1.06)" class="sl">S07-03_1</text>
<path d="M211.4,104.9L172.8,142.8" stroke="#5c5c5c" stroke-width="1.3"/>
<text transform="translate(236.10,139.90) scale(1,1.06)" class="sl">S07-31</text>
<path d="M231.9,137.8L188.5,179.2" stroke="#5c5c5c" stroke-width="1.3"/>
<text transform="translate(258.40,172.10) scale(1,1.06)" class="sl">S07-03_2</text>
<path d="M254,168.5L196.3,224" stroke="#5c5c5c" stroke-width="1.3"/>
<text transform="translate(286.50,210.00) scale(1,1.06)" class="sl">S08-26</text>
<path d="M282.3,211.8L207.6,283.4" stroke="#5c5c5c" stroke-width="1.3"/>
<text transform="translate(354.90,237.60) scale(1,1.06)" class="sl">S07-35</text>
<path d="M348.1,236.1L273.3,309.5" stroke="#5c5c5c" stroke-width="1.3"/>
<path d="M636.5,63.0 638.5,63.8 640.2,64.6 642.0,65.5 643.6,66.6 645.0,68.0 646.2,69.6 647.3,71.2 648.3,72.9 649.4,74.7 650.4,76.4 651.4,78.1 652.7,79.6 654.0,81.1 655.4,82.5 656.7,84.0 657.8,85.7 658.9,87.4 659.8,89.1 660.6,91.0 661.3,92.8 662.0,94.7 662.8,96.5 663.7,98.3 664.7,100.1 665.7,101.8 666.6,103.6 667.6,105.3 668.4,107.1 669.3,108.9 670.0,110.8 670.7,112.7 671.3,114.6 672.0,116.5 672.7,118.3 673.5,120.2 674.4,122.0 675.3,123.7 676.2,125.5 677.1,127.3 677.9,129.1 678.7,131.0 679.5,132.8 680.2,134.7 681.0,136.5 681.8,138.3 682.6,140.2 683.5,142.0 684.4,143.7 685.4,145.5 686.5,147.2 687.5,148.9 688.6,150.6 689.6,152.3 690.6,154.0 691.7,155.7 692.7,157.4 693.7,159.1 694.7,160.9 695.6,162.7 696.4,164.5 697.2,166.3 698.0,168.2 698.7,170.0 699.4,171.9 700.2,173.8 700.9,175.6 701.6,177.5 702.3,179.4 703.0,181.2 703.8,183.1 704.6,184.9 705.4,186.7 706.3,188.6 707.1,190.4 707.9,192.2 708.8,194.0 709.7,195.8 710.5,197.6 711.4,199.4 712.3,201.2 713.2,203.0 714.1,204.8 715.0,206.6 715.9,208.3 716.8,210.1 717.6,211.9 718.5,213.7 719.4,215.5 720.3,217.3 721.2,219.1 722.1,220.9 723.1,222.6 724.0,224.4 725.1,226.1 726.2,227.8 727.3,229.4 728.4,231.1 729.5,232.8 730.6,234.5 731.6,236.2 732.5,237.9 733.5,239.7 734.3,241.5 735.2,243.3 736.1,245.1 736.9,246.9 737.8,248.7 738.6,250.6 739.3,252.4 740.1,254.3 740.9,256.1 741.8,257.9 742.7,259.6 743.8,261.3 744.9,263.0 746.0,264.6 747.3,266.2 748.5,267.8 749.8,269.3 751.0,270.9 752.3,272.4 753.7,273.9 755.0,275.4 756.4,276.8 757.8,278.2 759.3,279.6 760.8,280.8 762.4,282.0 764.1,283.2 765.7,284.3 767.4,285.3 769.2,286.3 770.9,287.3 772.6,288.3 774.4,289.3 776.2,290.2 778.0,291.1 779.8,291.8 781.7,292.5 783.6,293.2 785.5,293.8 787.4,294.4 789.3,295.1 791.2,295.6 793.1,296.2 795.0,296.7 797.0,297.2 798.9,297.6 800.9,298.0 802.9,298.4 804.8,298.7 806.8,299.1 808.8,299.4 810.7,299.8 812.7,300.2 814.7,300.6 816.6,301.0 818.6,301.5 820.5,301.9 822.5,302.3 824.4,302.7 826.4,303.1 828.4,303.4 830.3,303.7 832.3,304.0 834.3,304.3 836.3,304.5 838.3,304.7 840.3,304.9 842.3,305.1 844.3,305.3 846.2,305.6 848.2,305.8 850.2,306.1 852.2,306.3 854.2,306.6 856.1,306.9 858.1,307.2 860.1,307.4 862.1,307.7 864.1,308.0 866.1,308.2 868.0,308.4 870.0,308.6 872.0,308.8 874.0,309.0 876.0,309.1 878.0,309.3 880.0,309.4 882.0,309.6 884.0,309.8 886.0,310.0 888.0,310.2 890.0,310.4 891.9,310.7 893.9,310.9 895.9,311.1 897.9,311.3 899.9,311.5 901.9,311.7 903.9,311.9 905.9,312.1 907.9,312.2 909.9,312.4 911.8,312.6 913.8,312.7 915.8,312.9 917.8,313.0 919.8,313.2 921.8,313.3 923.8,313.5 925.8,313.7 927.8,313.8 929.8,314.0 931.8,314.2 933.8,314.3 935.8,314.5 937.8,314.7 939.8,314.9 941.7,315.0 943.7,315.2 945.7,315.4 947.7,315.6 949.7,315.7 951.7,315.9 953.7,316.1 955.7,316.2 957.7,316.3 959.7,316.5 961.7,316.6 963.7,316.7 965.7,316.8 967.7,316.9 969.7,317.1 971.7,317.2 973.7,317.3 975.7,317.4 977.7,317.5 979.7,317.5 981.7,317.6 983.7,317.7 985.7,317.8 987.7,317.9 989.6,318.0 991.6,318.1 993.6,318.2 995.6,318.3 997.6,318.4 999.6,318.5 1001.6,318.6 1003.6,318.7 1005.6,318.8 1007.6,318.9 1009.6,319.0 1011.6,319.1 1013.6,319.2 1015.6,319.3 1017.6,319.4 1019.6,319.5 1021.6,319.6 1023.6,319.7 1025.6,319.8 1027.6,319.9 1029.6,320.0 1031.6,320.1 1033.6,320.2 1035.6,320.3 1037.6,320.4 1039.6,320.4 1041.6,320.5 1043.6,320.6 1045.6,320.7 1047.6,320.8 1049.6,320.9 1051.6,321.0 1053.6,321.1 1055.6,321.2 1057.6,321.3 1059.6,321.3 1061.4,321.4 1063.0,321.5" stroke="#4848c4" stroke-width="2.2" fill="none" stroke-dasharray="2.2 5.8"/>
<path d="M636.5,105.7 638.4,106.6 640.1,107.4 641.9,108.3 643.4,109.5 644.7,111.0 645.5,112.8 646.2,114.7 646.6,116.6 647.1,118.6 647.7,120.5 648.2,122.4 648.8,124.3 649.4,126.2 650.0,128.2 650.7,130.0 651.3,131.9 652.0,133.8 652.7,135.7 653.5,137.5 654.3,139.4 655.1,141.2 655.8,143.1 656.6,144.9 657.3,146.8 658.0,148.6 658.8,150.5 659.6,152.3 660.4,154.1 661.4,155.9 662.3,157.7 663.1,159.5 663.8,161.4 664.3,163.3 664.6,165.3 665.0,167.2 665.5,169.1 666.5,170.8 667.8,172.3 669.3,173.6 670.5,175.1 671.6,176.8 672.6,178.5 673.5,180.3 674.3,182.2 675.1,184.0 675.7,185.9 676.4,187.8 677.1,189.7 677.8,191.5 678.6,193.4 679.3,195.2 680.1,197.1 680.9,198.9 681.7,200.7 682.5,202.6 683.4,204.4 684.2,206.2 685.1,208.0 685.9,209.8 686.8,211.6 687.9,213.3 689.0,214.9 690.4,216.3 691.9,217.7 693.3,219.1 694.6,220.6 695.6,222.3 696.6,224.0 697.5,225.8 698.4,227.6 699.3,229.4 700.1,231.2 701.0,233.0 701.9,234.8 702.9,236.6 703.9,238.3 705.0,240.0 706.1,241.6 707.3,243.2 708.4,244.9 709.5,246.5 710.7,248.2 711.8,249.9 712.8,251.6 713.8,253.3 714.7,255.1 715.5,256.9 716.4,258.7 717.4,260.4 718.5,262.1 719.7,263.7 720.8,265.4 722.0,267.0 723.1,268.6 724.3,270.3 725.4,271.9 726.6,273.5 727.9,275.0 729.2,276.5 730.6,278.0 732.1,279.3 733.6,280.7 735.0,282.0 736.5,283.4 738.0,284.7 739.6,285.9 741.2,287.2 742.8,288.4 744.4,289.5 746.1,290.6 747.8,291.6 749.5,292.6 751.4,293.4 753.2,294.1 755.1,294.8 757.0,295.4 758.9,296.0 760.8,296.7 762.6,297.5 764.5,298.3 766.3,299.0 768.2,299.6 770.2,300.2 772.1,300.6 774.1,301.1 776.0,301.5 778.0,301.9 779.9,302.2 781.9,302.6 783.9,302.9 785.9,303.2 787.8,303.5 789.8,303.8 791.8,304.0 793.8,304.3 795.8,304.5 797.8,304.8 799.7,305.0 801.7,305.2 803.7,305.4 805.7,305.6 807.7,305.7 809.7,305.9 811.7,306.1 813.7,306.2 815.7,306.4 817.7,306.6 819.7,306.8 821.7,307.0 823.6,307.2 825.6,307.4 827.6,307.6 829.6,307.9 831.6,308.3 833.5,308.7 835.5,309.1 837.4,309.5 839.4,309.9 841.4,310.2 843.4,310.4 845.4,310.6 847.3,310.8 849.3,311.0 851.3,311.2 853.3,311.4 855.3,311.6 857.3,311.8 859.3,312.0 861.3,312.2 863.3,312.4 865.3,312.6 867.2,312.8 869.2,313.0 871.2,313.1 873.2,313.3 875.2,313.4 877.2,313.6 879.2,313.7 881.2,313.8 883.2,313.9 885.2,314.0 887.2,314.1 889.2,314.2 891.2,314.3 893.2,314.3 895.2,314.4 897.2,314.5 899.2,314.6 901.2,314.7 903.2,314.8 905.2,314.9 907.2,315.0 909.2,315.1 911.2,315.3 913.2,315.4 915.2,315.5 917.2,315.6 919.2,315.7 921.2,315.8 923.2,316.0 925.1,316.1 927.1,316.2 929.1,316.3 931.1,316.4 933.1,316.5 935.1,316.7 937.1,316.8 939.1,316.9 941.1,317.0 943.1,317.1 945.1,317.2 947.1,317.3 949.1,317.5 951.1,317.6 953.1,317.7 955.1,317.8 957.1,317.9 959.1,318.0 961.1,318.1 963.1,318.2 965.1,318.3 967.1,318.4 969.1,318.5 971.1,318.6 973.1,318.7 975.1,318.8 977.1,318.9 979.1,319.0 981.1,319.1 983.1,319.2 985.1,319.3 987.1,319.4 989.1,319.5 991.1,319.6 993.1,319.7 995.0,319.8 997.0,319.9 999.0,320.0 1001.0,320.0 1003.0,320.1 1005.0,320.2 1007.0,320.3 1009.0,320.4 1011.0,320.5 1013.0,320.6 1015.0,320.7 1017.0,320.8 1019.0,320.9 1021.0,321.0 1023.0,321.0 1025.0,321.1 1027.0,321.2 1029.0,321.3 1031.0,321.4 1033.0,321.5 1035.0,321.6 1037.0,321.7 1039.0,321.7 1041.0,321.8 1043.0,321.9 1045.0,322.0 1047.0,322.1 1049.0,322.2 1051.0,322.3 1053.0,322.4 1055.0,322.4 1057.0,322.5 1059.0,322.6 1060.9,322.7 1063.0,322.8" stroke="#4848c4" stroke-width="2.2" fill="none" stroke-dasharray="2.2 5.8"/>
<path d="M636.5,108.9 637.5,110.8 638.4,112.4 639.2,114.2 640.1,116.0 640.8,117.9 641.5,119.8 642.2,121.7 642.8,123.6 643.5,125.4 644.2,127.3 644.9,129.2 645.7,131.0 646.4,132.9 647.2,134.7 647.9,136.6 648.6,138.5 649.4,140.3 650.1,142.2 650.9,144.0 651.6,145.9 652.3,147.8 653.1,149.6 653.8,151.5 654.5,153.4 655.2,155.2 655.9,157.1 656.6,159.0 657.4,160.8 658.2,162.7 659.0,164.5 659.8,166.3 660.6,168.2 661.3,170.0 662.1,171.8 662.9,173.7 663.7,175.5 664.5,177.4 665.3,179.2 666.1,181.0 667.0,182.8 667.8,184.6 668.7,186.4 669.6,188.2 670.5,190.0 671.4,191.8 672.3,193.6 673.0,195.4 673.8,197.3 674.5,199.1 675.3,201.0 676.2,202.8 677.1,204.6 678.0,206.3 679.0,208.1 680.0,209.8 681.0,211.5 682.0,213.3 683.1,215.0 684.1,216.7 685.2,218.4 686.2,220.1 687.2,221.8 688.3,223.5 689.3,225.2 690.3,226.9 691.3,228.6 692.4,230.4 693.4,232.1 694.4,233.8 695.4,235.5 696.4,237.3 697.4,239.0 698.5,240.7 699.5,242.4 700.6,244.1 701.7,245.7 702.9,247.3 704.2,248.9 705.5,250.4 706.8,251.9 708.2,253.4 709.5,254.9 710.8,256.3 712.2,257.8 713.5,259.3 714.9,260.7 716.3,262.2 717.8,263.6 719.2,264.9 720.8,266.2 722.4,267.4 724.0,268.5 725.7,269.7 727.3,270.8 729.0,271.9 730.6,273.0 732.2,274.2 733.9,275.4 735.5,276.5 737.2,277.6 738.9,278.7 740.6,279.7 742.3,280.7 744.1,281.6 745.8,282.6 747.6,283.5 749.4,284.4 751.2,285.3 753.0,286.1 754.9,286.9 756.7,287.7 758.6,288.4 760.4,289.1 762.3,289.8 764.2,290.5 766.1,291.2 768.0,291.9 769.8,292.5 771.7,293.2 773.6,293.9 775.5,294.5 777.4,295.2 779.3,295.8 781.2,296.4 783.1,297.0 785.0,297.6 786.9,298.2 788.9,298.7 790.8,299.2 792.7,299.6 794.7,300.1 796.7,300.5 798.6,300.8 800.6,301.2 802.6,301.6 804.5,301.9 806.5,302.3 808.5,302.7 810.4,303.1 812.4,303.5 814.3,304.0 816.3,304.4 818.2,304.9 820.1,305.4 822.1,305.8 824.0,306.3 826.0,306.7 828.0,307.1 829.9,307.5 831.9,307.8 833.9,308.2 835.8,308.5 837.8,308.9 839.8,309.2 841.7,309.5 843.7,309.8 845.7,310.1 847.7,310.4 849.7,310.7 851.6,311.0 853.6,311.3 855.6,311.5 857.6,311.8 859.6,312.1 861.5,312.4 863.5,312.6 865.5,312.9 867.5,313.1 869.5,313.4 871.5,313.6 873.4,313.9 875.4,314.1 877.4,314.4 879.4,314.6 881.4,314.8 883.4,315.1 885.4,315.3 887.4,315.5 889.3,315.7 891.3,315.9 893.3,316.2 895.3,316.4 897.3,316.6 899.3,316.8 901.3,317.0 903.3,317.1 905.3,317.3 907.3,317.5 909.2,317.6 911.2,317.8 913.2,317.9 915.2,318.1 917.2,318.2 919.2,318.4 921.2,318.5 923.2,318.6 925.2,318.7 927.2,318.8 929.2,319.0 931.2,319.1 933.2,319.2 935.2,319.3 937.2,319.4 939.2,319.5 941.2,319.6 943.2,319.7 945.2,319.8 947.2,319.9 949.2,320.0 951.2,320.1 953.2,320.2 955.2,320.3 957.2,320.4 959.2,320.5 961.2,320.6 963.2,320.7 965.2,320.8 967.2,320.9 969.2,321.0 971.1,321.1 973.1,321.2 975.1,321.3 977.1,321.4 979.1,321.5 981.1,321.7 983.1,321.8 985.1,321.9 987.1,322.0 989.1,322.1 991.1,322.1 993.1,322.2 995.1,322.3 997.1,322.4 999.1,322.5 1001.1,322.5 1003.1,322.6 1005.1,322.7 1007.1,322.7 1009.1,322.8 1011.1,322.9 1013.1,322.9 1015.1,323.0 1017.1,323.1 1019.1,323.1 1021.1,323.2 1023.1,323.2 1025.1,323.3 1027.1,323.3 1029.1,323.4 1031.1,323.4 1033.1,323.5 1035.1,323.6 1037.1,323.6 1039.1,323.7 1041.1,323.7 1043.1,323.8 1045.1,323.8 1047.1,323.9 1049.1,323.9 1051.1,324.0 1053.1,324.0 1055.1,324.1 1057.1,324.1 1059.1,324.2 1060.9,324.2 1063.0,324.3" stroke="#111" stroke-width="1.5" fill="none" stroke-dasharray="8.5 4 1.6 4"/>
<path d="M636.0,142.1 637.1,143.9 638.1,145.5 639.1,147.2 640.2,148.9 641.2,150.7 642.1,152.4 643.0,154.2 643.9,156.0 644.6,157.9 645.3,159.7 646.0,161.6 646.7,163.5 647.4,165.4 648.2,167.2 648.9,169.1 649.6,171.0 650.1,172.9 650.6,174.8 651.1,176.7 651.8,178.6 652.5,180.5 653.2,182.4 654.0,184.2 654.7,186.1 655.5,187.9 656.2,189.8 656.9,191.7 657.6,193.5 658.3,195.4 658.9,197.3 659.7,199.2 660.4,201.0 661.2,202.9 661.9,204.7 662.7,206.6 663.4,208.4 664.1,210.3 664.8,212.2 665.4,214.1 666.1,216.0 666.9,217.8 667.8,219.6 668.7,221.4 669.6,223.1 670.5,224.9 671.4,226.7 672.3,228.5 673.1,230.3 673.9,232.2 674.6,234.0 675.4,235.9 676.1,237.8 676.8,239.6 677.5,241.5 678.3,243.3 679.0,245.2 679.8,247.0 680.6,248.9 681.4,250.7 682.3,252.5 683.2,254.3 684.1,256.1 685.1,257.8 686.1,259.6 687.1,261.3 688.1,263.0 689.2,264.7 690.3,266.3 691.4,268.0 692.6,269.6 693.9,271.1 695.2,272.6 696.6,274.1 698.0,275.5 699.3,277.0 700.7,278.4 702.1,279.9 703.5,281.3 704.9,282.7 706.4,284.1 707.9,285.4 709.5,286.6 711.1,287.8 712.7,288.9 714.4,290.1 716.0,291.2 717.7,292.3 719.4,293.3 721.1,294.4 722.9,295.3 724.6,296.3 726.4,297.2 728.2,298.1 730.0,299.0 731.8,299.8 733.6,300.6 735.5,301.4 737.3,302.1 739.2,302.9 741.1,303.6 742.9,304.3 744.8,305.0 746.7,305.7 748.6,306.3 750.5,307.0 752.4,307.6 754.3,308.2 756.2,308.8 758.1,309.4 760.0,310.0 761.9,310.5 763.9,311.1 765.8,311.6 767.7,312.1 769.7,312.6 771.6,313.1 773.6,313.5 775.5,313.9 777.5,314.3 779.4,314.7 781.4,315.1 783.4,315.4 785.3,315.8 787.3,316.1 789.3,316.4 791.3,316.7 793.3,317.0 795.2,317.2 797.2,317.5 799.2,317.7 801.2,317.9 803.2,318.1 805.2,318.3 807.2,318.5 809.2,318.7 811.1,318.9 813.1,319.1 815.1,319.3 817.1,319.5 819.1,319.6 821.1,319.8 823.1,320.0 825.1,320.1 827.1,320.3 829.1,320.4 831.1,320.6 833.1,320.7 835.1,320.9 837.1,321.0 839.1,321.1 841.1,321.2 843.1,321.3 845.0,321.4 847.0,321.4 849.0,321.5 851.0,321.5 853.0,321.6 855.0,321.6 857.0,321.7 859.0,321.8 861.0,321.8 863.0,321.9 865.0,321.9 867.0,322.0 869.0,322.0 871.0,322.1 873.0,322.1 875.0,322.2 877.0,322.2 879.0,322.3 881.0,322.3 883.0,322.4 885.0,322.4 887.0,322.5 889.0,322.5 891.0,322.6 893.0,322.6 895.0,322.7 897.0,322.7 899.0,322.8 901.0,322.8 903.0,322.9 905.0,322.9 907.0,323.0 909.0,323.0 911.0,323.1 913.0,323.1 915.0,323.2 917.0,323.3 919.0,323.3 921.0,323.4 923.0,323.4 925.0,323.5 927.0,323.6 929.0,323.6 931.0,323.7 933.0,323.8 935.0,323.8 937.0,323.9 939.0,324.0 941.0,324.0 943.0,324.1 945.0,324.2 947.0,324.2 949.0,324.3 951.0,324.4 953.0,324.4 955.0,324.5 957.0,324.6 959.0,324.7 961.0,324.7 963.0,324.8 965.0,324.9 967.0,324.9 969.0,325.0 971.0,325.1 973.0,325.1 975.0,325.2 977.0,325.3 979.0,325.3 981.0,325.4 983.0,325.5 985.0,325.5 987.0,325.6 989.0,325.7 991.0,325.7 993.0,325.8 995.0,325.8 997.0,325.9 999.0,326.0 1001.0,326.0 1003.0,326.1 1005.0,326.1 1007.0,326.2 1009.0,326.2 1011.0,326.3 1013.0,326.4 1015.0,326.4 1017.0,326.5 1019.0,326.5 1021.0,326.6 1023.0,326.6 1025.0,326.7 1027.0,326.7 1029.0,326.7 1031.0,326.8 1033.0,326.8 1035.0,326.9 1037.0,326.9 1039.0,327.0 1041.0,327.0 1043.0,327.1 1045.0,327.1 1047.0,327.1 1049.0,327.2 1051.0,327.2 1053.0,327.3 1055.0,327.3 1057.0,327.4 1059.0,327.4 1060.8,327.5 1063.0,327.5" stroke="#222" stroke-width="1.6" fill="none" stroke-dasharray="3.5 3.7"/>
<path d="M646.5,213.8 648.2,215.1 649.6,216.3 651.1,217.6 652.5,219.1 653.8,220.6 655.1,222.1 656.3,223.7 657.4,225.4 658.5,227.1 659.4,228.8 660.4,230.6 661.2,232.4 662.1,234.2 663.1,236.0 664.0,237.7 664.9,239.5 665.9,241.2 666.9,243.0 667.9,244.7 668.9,246.4 669.9,248.1 670.9,249.9 671.8,251.7 672.8,253.4 673.8,255.1 675.0,256.7 676.2,258.3 677.5,259.8 678.9,261.3 680.1,262.8 681.4,264.4 682.6,266.0 683.7,267.6 684.9,269.3 686.0,270.9 687.1,272.6 688.2,274.3 689.4,275.9 690.5,277.6 691.7,279.2 692.9,280.8 694.1,282.3 695.4,283.8 696.8,285.3 698.3,286.7 699.7,288.0 701.2,289.3 702.8,290.6 704.3,291.9 705.8,293.2 707.3,294.5 708.9,295.7 710.6,296.9 712.3,297.9 714.0,299.0 715.7,300.0 717.5,300.9 719.2,301.8 721.0,302.7 722.8,303.6 724.6,304.5 726.4,305.4 728.2,306.3 730.0,307.1 731.9,307.9 733.7,308.6 735.6,309.3 737.5,309.9 739.4,310.5 741.4,311.0 743.3,311.5 745.2,312.1 747.2,312.6 749.1,313.1 751.0,313.6 752.9,314.1 754.9,314.6 756.8,315.1 758.8,315.6 760.7,316.1 762.6,316.6 764.6,317.0 766.5,317.5 768.5,317.9 770.4,318.3 772.4,318.7 774.4,319.1 776.3,319.5 778.3,319.8 780.3,320.0 782.3,320.3 784.3,320.5 786.2,320.8 788.2,321.0 790.2,321.2 792.2,321.5 794.2,321.7 796.2,321.9 798.2,322.1 800.2,322.3 802.2,322.5 804.1,322.7 806.1,322.9 808.1,323.0 810.1,323.2 812.1,323.4 814.1,323.6 816.1,323.7 818.1,323.9 820.1,324.0 822.1,324.1 824.1,324.3 826.1,324.4 828.1,324.5 830.1,324.7 832.1,324.8 834.1,324.9 836.1,325.0 838.1,325.1 840.1,325.2 842.0,325.3 844.0,325.4 846.0,325.5 848.0,325.6 850.0,325.7 852.0,325.8 854.0,325.9 856.0,326.0 858.0,326.1 860.0,326.1 862.0,326.2 864.0,326.3 866.0,326.4 868.0,326.4 870.0,326.5 872.0,326.6 874.0,326.6 876.0,326.7 878.0,326.8 880.0,326.8 882.0,326.9 884.0,327.0 886.0,327.0 888.0,327.1 890.0,327.2 892.0,327.2 894.0,327.3 896.0,327.3 898.0,327.4 900.0,327.4 902.0,327.5 904.0,327.6 906.0,327.6 908.0,327.7 910.0,327.7 912.0,327.8 914.0,327.8 916.0,327.9 918.0,327.9 920.0,327.9 922.0,328.0 924.0,328.0 926.0,328.1 928.0,328.1 930.0,328.2 932.0,328.2 934.0,328.2 936.0,328.3 938.0,328.3 940.0,328.3 942.0,328.4 944.0,328.4 946.0,328.4 948.0,328.5 950.0,328.5 952.0,328.5 954.0,328.6 956.0,328.6 958.0,328.6 960.0,328.6 962.0,328.6 964.0,328.7 966.0,328.7 968.0,328.7 970.0,328.7 972.0,328.7 974.0,328.8 976.0,328.8 978.0,328.8 980.0,328.8 982.0,328.8 984.0,328.8 986.0,328.9 988.0,328.9 990.0,328.9 992.0,328.9 994.0,328.9 996.0,328.9 998.0,328.9 1000.0,329.0 1002.0,329.0 1004.0,329.0 1006.0,329.0 1008.0,329.0 1010.0,329.0 1012.0,329.0 1014.0,329.0 1016.0,329.1 1018.0,329.1 1020.0,329.1 1022.0,329.1 1024.0,329.1 1026.0,329.1 1028.0,329.1 1030.0,329.1 1032.0,329.1 1034.0,329.1 1036.0,329.2 1038.0,329.2 1040.0,329.2 1042.0,329.2 1044.0,329.2 1046.0,329.2 1048.0,329.2 1050.0,329.2 1052.0,329.2 1054.0,329.2 1056.0,329.3 1058.0,329.3 1060.0,329.3 1061.5,329.3 1063.0,329.3" stroke="#111" stroke-width="1.6" fill="none" stroke-dasharray="8 5"/>
<path d="M636.0,191.1 636.6,193.1 637.2,194.9 637.8,196.8 638.4,198.7 639.0,200.6 639.7,202.5 640.3,204.4 641.1,206.3 641.9,208.1 642.8,209.9 643.8,211.6 644.8,213.3 645.8,215.0 646.9,216.7 648.0,218.4 649.0,220.1 649.9,221.9 650.8,223.7 651.7,225.5 652.6,227.3 653.5,229.1 654.3,230.9 655.3,232.7 656.2,234.4 657.2,236.1 658.3,237.9 659.3,239.6 660.3,241.3 661.3,243.0 662.3,244.7 663.3,246.5 664.4,248.2 665.5,249.8 666.7,251.4 667.9,253.0 669.2,254.5 670.5,256.1 671.8,257.6 673.2,259.1 674.5,260.5 675.9,262.0 677.3,263.4 678.8,264.8 680.2,266.1 681.7,267.5 683.2,268.8 684.7,270.1 686.2,271.4 687.8,272.7 689.3,274.0 690.9,275.2 692.5,276.4 694.1,277.5 695.8,278.7 697.4,279.8 699.1,280.9 700.8,282.0 702.5,283.0 704.2,284.1 705.9,285.1 707.6,286.1 709.4,287.1 711.1,288.1 712.9,289.0 714.7,289.9 716.5,290.8 718.3,291.6 720.1,292.4 722.0,293.2 723.8,294.0 725.6,294.8 727.5,295.5 729.3,296.3 731.2,297.1 733.0,297.9 734.9,298.7 736.7,299.5 738.5,300.3 740.3,301.2 742.1,302.0 743.9,302.9 745.8,303.6 747.6,304.4 749.5,305.1 751.4,305.7 753.3,306.4 755.2,307.0 757.1,307.5 759.0,308.1 761.0,308.6 762.9,309.1 764.8,309.6 766.8,310.1 768.7,310.6 770.7,311.0 772.6,311.5 774.6,312.0 776.5,312.4 778.5,312.8 780.4,313.2 782.4,313.6 784.4,313.9 786.3,314.2 788.3,314.5 790.3,314.8 792.3,315.0 794.3,315.3 796.2,315.5 798.2,315.8 800.2,316.0 802.2,316.3 804.2,316.5 806.2,316.7 808.2,316.9 810.2,317.1 812.1,317.4 814.1,317.6 816.1,317.8 818.1,318.0 820.1,318.2 822.1,318.4 824.1,318.6 826.1,318.8 828.1,319.0 830.1,319.1 832.0,319.3 834.0,319.5 836.0,319.7 838.0,319.8 840.0,320.0 842.0,320.2 844.0,320.3 846.0,320.5 848.0,320.6 850.0,320.8 852.0,321.0 854.0,321.1 856.0,321.3 858.0,321.4 860.0,321.5 862.0,321.7 864.0,321.8 865.9,322.0 867.9,322.1 869.9,322.2 871.9,322.3 873.9,322.5 875.9,322.6 877.9,322.7 879.9,322.8 881.9,322.9 883.9,323.0 885.9,323.1 887.9,323.2 889.9,323.3 891.9,323.4 893.9,323.5 895.9,323.6 897.9,323.7 899.9,323.7 901.9,323.8 903.9,323.9 905.9,324.0 907.9,324.1 909.9,324.1 911.9,324.2 913.9,324.3 915.9,324.3 917.9,324.4 919.9,324.5 921.9,324.5 923.9,324.6 925.9,324.7 927.9,324.7 929.9,324.8 931.9,324.8 933.9,324.9 935.9,325.0 937.9,325.0 939.9,325.1 941.9,325.1 943.9,325.2 945.9,325.2 947.9,325.3 949.9,325.3 951.9,325.4 953.9,325.4 955.9,325.5 957.9,325.5 959.9,325.6 961.9,325.7 963.9,325.7 965.9,325.8 967.9,325.8 969.9,325.9 971.9,325.9 973.9,326.0 975.9,326.0 977.9,326.0 979.9,326.1 981.9,326.1 983.9,326.2 985.9,326.2 987.9,326.3 989.9,326.3 991.9,326.4 993.9,326.4 995.9,326.5 997.9,326.5 999.9,326.6 1001.9,326.6 1003.9,326.7 1005.9,326.7 1007.9,326.7 1009.9,326.8 1011.9,326.8 1013.9,326.9 1015.9,326.9 1017.9,326.9 1019.9,327.0 1021.9,327.0 1023.9,327.0 1025.9,327.1 1027.9,327.1 1029.9,327.1 1031.9,327.2 1033.9,327.2 1035.9,327.2 1037.9,327.3 1039.9,327.3 1041.8,327.3 1043.8,327.3 1045.8,327.4 1047.8,327.4 1049.8,327.4 1051.8,327.4 1053.8,327.5 1055.8,327.5 1057.8,327.5 1059.8,327.5 1061.8,327.6 1063.2,327.6 1064.2,327.6" stroke="#e66a80" stroke-width="1.7" fill="none" stroke-dasharray="1.7 1.6"/>
<path d="M636.0,193.9 636.3,196.0 636.6,197.8 636.9,199.8 637.2,201.8 637.5,203.8 637.8,205.8 638.2,207.7 638.9,209.6 639.7,211.4 640.7,213.2 641.6,214.9 642.7,216.6 643.7,218.3 644.8,220.0 645.9,221.7 646.9,223.4 647.8,225.2 648.7,227.0 649.6,228.8 650.4,230.6 651.3,232.4 652.2,234.2 653.1,235.9 654.1,237.7 655.1,239.4 656.2,241.1 657.2,242.8 658.2,244.5 659.2,246.3 660.2,248.0 661.2,249.7 662.3,251.4 663.4,253.1 664.6,254.7 665.9,256.2 667.2,257.8 668.5,259.3 669.8,260.8 671.1,262.3 672.5,263.7 673.9,265.2 675.3,266.6 676.8,267.9 678.2,269.3 679.7,270.6 681.2,272.0 682.7,273.3 684.2,274.6 685.8,275.9 687.4,277.1 688.9,278.3 690.5,279.5 692.2,280.7 693.8,281.8 695.5,282.9 697.2,284.0 698.9,285.1 700.6,286.1 702.3,287.2 704.0,288.2 705.7,289.2 707.5,290.2 709.2,291.1 711.0,292.0 712.8,292.9 714.6,293.8 716.4,294.6 718.2,295.4 720.1,296.2 721.9,297.0 723.8,297.8 725.6,298.5 727.4,299.3 729.3,300.1 731.1,300.9 733.0,301.7 734.8,302.5 736.6,303.4 738.4,304.2 740.2,305.1 742.0,305.9 743.9,306.6 745.7,307.4 747.6,308.1 749.5,308.7 751.4,309.3 753.3,309.9 755.2,310.5 757.2,311.0 759.1,311.5 761.0,312.1 763.0,312.5 764.9,313.0 766.9,313.5 768.8,314.0 770.7,314.4 772.7,314.9 774.6,315.3 776.6,315.7 778.6,316.1 780.5,316.5 782.5,316.8 784.5,317.1 786.5,317.4 788.4,317.6 790.4,317.9 792.4,318.2 794.4,318.4 796.4,318.6 798.4,318.9 800.4,319.1 802.3,319.3 804.3,319.6 806.3,319.8 808.3,320.0 810.3,320.2 812.3,320.4 814.3,320.6 816.3,320.8 818.3,321.0 820.2,321.2 822.2,321.4 824.2,321.6 826.2,321.8 828.2,322.0 830.2,322.2 832.2,322.3 834.2,322.5 836.2,322.7 838.2,322.8 840.2,323.0 842.2,323.2 844.1,323.3 846.1,323.5 848.1,323.6 850.1,323.8 852.1,323.9 854.1,324.1 856.1,324.2 858.1,324.4 860.1,324.5 862.1,324.7 864.1,324.8 866.1,324.9 868.1,325.1 870.1,325.2 872.1,325.3 874.1,325.4 876.1,325.5 878.1,325.6 880.1,325.7 882.1,325.8 884.1,325.9 886.1,326.0 888.1,326.1 890.1,326.2 892.1,326.3 894.1,326.4 896.1,326.5 898.0,326.6 900.0,326.6 902.0,326.7 904.0,326.8 906.0,326.9 908.0,326.9 910.0,327.0 912.0,327.1 914.0,327.2 916.0,327.2 918.0,327.3 920.0,327.3 922.0,327.4 924.0,327.5 926.0,327.5 928.0,327.6 930.0,327.7 932.0,327.7 934.0,327.8 936.0,327.8 938.0,327.9 940.0,327.9 942.0,328.0 944.0,328.0 946.0,328.1 948.0,328.2 950.0,328.2 952.0,328.3 954.0,328.3 956.0,328.4 958.0,328.4 960.0,328.5 962.0,328.5 964.0,328.6 966.0,328.6 968.0,328.7 970.0,328.7 972.0,328.8 974.0,328.8 976.0,328.9 978.0,328.9 980.0,329.0 982.0,329.0 984.0,329.1 986.0,329.1 988.0,329.1 990.0,329.2 992.0,329.2 994.0,329.3 996.0,329.3 998.0,329.4 1000.0,329.4 1002.0,329.5 1004.0,329.5 1006.0,329.6 1008.0,329.6 1010.0,329.6 1012.0,329.7 1014.0,329.7 1016.0,329.8 1018.0,329.8 1020.0,329.8 1022.0,329.9 1024.0,329.9 1026.0,329.9 1028.0,330.0 1030.0,330.0 1032.0,330.0 1034.0,330.0 1036.0,330.1 1038.0,330.1 1040.0,330.1 1042.0,330.1 1044.0,330.2 1046.0,330.2 1048.0,330.2 1050.0,330.2 1052.0,330.3 1054.0,330.3 1056.0,330.3 1058.0,330.3 1059.8,330.4 1061.8,330.4" stroke="#e66a80" stroke-width="1.7" fill="none" stroke-dasharray="1.7 1.6"/>
<path d="M636.0,211.4 638.0,211.7 639.7,212.4 641.3,213.6 642.7,215.0 643.9,216.6 645.0,218.2 646.2,219.9 647.3,221.5 648.5,223.1 649.7,224.7 650.8,226.4 652.0,228.0 653.1,229.7 654.1,231.4 655.2,233.1 656.2,234.8 657.3,236.5 658.3,238.2 659.2,240.0 660.1,241.8 661.0,243.5 661.9,245.3 662.8,247.1 663.7,248.9 664.6,250.7 665.7,252.4 666.8,254.1 667.9,255.7 669.2,257.3 670.4,258.8 671.7,260.4 673.0,261.9 674.3,263.4 675.7,264.8 677.1,266.2 678.6,267.6 680.1,268.9 681.6,270.3 683.1,271.6 684.6,272.8 686.2,274.1 687.7,275.3 689.3,276.6 690.9,277.8 692.5,279.0 694.2,280.1 695.8,281.2 697.5,282.3 699.2,283.4 700.9,284.5 702.6,285.5 704.3,286.5 706.1,287.4 707.9,288.3 709.6,289.3 711.4,290.2 713.2,291.0 715.0,291.9 716.8,292.7 718.7,293.6 720.5,294.4 722.3,295.2 724.1,296.0 726.0,296.8 727.8,297.6 729.7,298.3 731.6,299.0 733.4,299.8 735.2,300.6 737.1,301.4 738.9,302.2 740.7,303.0 742.5,303.9 744.4,304.7 746.2,305.5 748.0,306.2 749.9,307.0 751.8,307.7 753.6,308.4 755.5,309.0 757.4,309.7 759.3,310.4 761.2,311.0 763.1,311.6 765.0,312.2 767.0,312.7 768.9,313.2 770.8,313.7 772.8,314.2 774.7,314.7 776.7,315.1 778.6,315.6 780.6,316.0 782.5,316.5 784.5,316.9 786.4,317.3 788.4,317.6 790.4,318.0 792.3,318.3 794.3,318.7 796.3,319.0 798.3,319.3 800.2,319.5 802.2,319.8 804.2,320.0 806.2,320.3 808.2,320.5 810.2,320.8 812.1,321.0 814.1,321.2 816.1,321.4 818.1,321.6 820.1,321.8 822.1,322.0 824.1,322.2 826.1,322.4 828.1,322.6 830.1,322.8 832.0,323.0 834.0,323.2 836.0,323.3 838.0,323.5 840.0,323.7 842.0,323.9 844.0,324.0 846.0,324.2 848.0,324.3 850.0,324.5 852.0,324.7 854.0,324.8 856.0,325.0 858.0,325.1 860.0,325.3 861.9,325.4 863.9,325.6 865.9,325.7 867.9,325.8 869.9,326.0 871.9,326.1 873.9,326.2 875.9,326.3 877.9,326.4 879.9,326.5 881.9,326.6 883.9,326.7 885.9,326.8 887.9,326.9 889.9,327.0 891.9,327.0 893.9,327.1 895.9,327.2 897.9,327.2 899.9,327.3 901.9,327.4 903.9,327.4 905.9,327.5 907.9,327.5 909.9,327.6 911.9,327.6 913.9,327.7 915.9,327.7 917.9,327.8 919.9,327.8 921.9,327.9 923.9,327.9 925.9,327.9 927.9,328.0 929.9,328.0 931.9,328.1 933.9,328.1 935.9,328.1 937.9,328.2 939.9,328.2 941.9,328.3 943.9,328.3 945.9,328.3 947.9,328.4 949.9,328.4 951.9,328.4 953.9,328.5 955.9,328.5 957.9,328.5 959.9,328.6 961.9,328.6 963.9,328.6 965.9,328.7 967.9,328.7 969.9,328.7 971.9,328.8 973.9,328.8 975.9,328.8 977.9,328.9 979.9,328.9 981.9,328.9 983.9,329.0 985.9,329.0 987.9,329.0 989.9,329.0 991.9,329.1 993.9,329.1 995.9,329.1 997.9,329.2 999.9,329.2 1001.9,329.2 1003.9,329.3 1005.9,329.3 1007.9,329.3 1009.9,329.3 1011.9,329.4 1013.9,329.4 1015.9,329.4 1017.9,329.4 1019.9,329.5 1021.9,329.5 1023.9,329.5 1025.9,329.5 1027.9,329.5 1029.9,329.6 1031.9,329.6 1033.9,329.6 1035.9,329.6 1037.9,329.6 1039.9,329.6 1041.9,329.6 1043.9,329.7 1045.9,329.7 1047.9,329.7 1049.9,329.7 1051.9,329.7 1053.9,329.7 1055.9,329.7 1057.9,329.8 1059.9,329.8 1061.4,329.8 1062.9,329.8" stroke="#111" stroke-width="1.5" fill="none"/>
<path d="M636.0,171.9 636.9,173.8 637.7,175.5 638.6,177.3 639.6,179.1 640.5,180.8 641.5,182.6 642.4,184.3 643.3,186.1 644.1,187.9 645.1,189.7 646.0,191.5 647.0,193.2 648.1,194.9 649.2,196.6 650.2,198.3 651.2,200.0 652.2,201.7 653.3,203.5 654.3,205.1 655.6,206.7 656.9,208.2 658.2,209.7 659.6,211.2 660.9,212.7 662.2,214.2 663.4,215.8 664.7,217.3 665.9,218.9 667.0,220.6 668.1,222.2 669.2,223.9 670.3,225.6 671.4,227.3 672.5,228.9 673.6,230.6 674.7,232.3 675.8,233.9 676.9,235.6 677.9,237.4 678.8,239.2 679.6,241.0 680.5,242.8 681.3,244.6 682.2,246.4 683.1,248.2 683.9,250.0 684.8,251.8 685.7,253.6 686.5,255.4 687.5,257.1 688.5,258.9 689.5,260.6 690.7,262.2 691.9,263.8 693.2,265.3 694.5,266.8 695.9,268.3 697.2,269.8 698.5,271.3 699.8,272.8 701.1,274.3 702.4,275.9 703.6,277.5 704.8,279.0 706.1,280.6 707.4,282.1 708.7,283.6 710.1,285.0 711.6,286.4 713.1,287.7 714.7,288.9 716.3,290.1 717.9,291.2 719.6,292.4 721.3,293.5 723.0,294.5 724.7,295.6 726.4,296.6 728.1,297.6 729.8,298.6 731.6,299.6 733.3,300.6 735.1,301.6 736.8,302.6 738.5,303.6 740.3,304.6 742.0,305.5 743.8,306.5 745.6,307.3 747.4,308.2 749.2,309.0 751.1,309.7 752.9,310.5 754.8,311.2 756.7,311.8 758.6,312.5 760.5,313.1 762.4,313.7 764.3,314.3 766.2,314.9 768.1,315.5 770.0,316.2 771.9,316.8 773.8,317.4 775.7,318.1 777.6,318.7 779.5,319.2 781.5,319.7 783.4,320.1 785.4,320.5 787.4,320.8 789.3,321.1 791.3,321.4 793.3,321.6 795.3,321.8 797.3,322.0 799.3,322.2 801.3,322.3 803.3,322.5 805.3,322.6 807.3,322.8 809.3,322.9 811.2,323.1 813.2,323.2 815.2,323.3 817.2,323.4 819.2,323.6 821.2,323.7 823.2,323.8 825.2,323.9 827.2,324.0 829.2,324.2 831.2,324.3 833.2,324.4 835.2,324.5 837.2,324.6 839.2,324.8 841.2,324.9 843.2,325.0 845.2,325.1 847.2,325.3 849.2,325.4 851.2,325.5 853.2,325.6 855.2,325.8 857.2,325.9 859.2,326.0 861.2,326.1 863.2,326.2 865.1,326.3 867.1,326.5 869.1,326.6 871.1,326.7 873.1,326.8 875.1,326.9 877.1,327.0 879.1,327.1 881.1,327.1 883.1,327.2 885.1,327.3 887.1,327.4 889.1,327.5 891.1,327.5 893.1,327.6 895.1,327.7 897.1,327.7 899.1,327.8 901.1,327.9 903.1,327.9 905.1,328.0 907.1,328.0 909.1,328.1 911.1,328.1 913.1,328.2 915.1,328.2 917.1,328.2 919.1,328.3 921.1,328.3 923.1,328.3 925.1,328.4 927.1,328.4 929.1,328.4 931.1,328.5 933.1,328.5 935.1,328.5 937.1,328.5 939.1,328.6 941.1,328.6 943.1,328.6 945.1,328.6 947.1,328.7 949.1,328.7 951.1,328.7 953.1,328.7 955.1,328.8 957.1,328.8 959.1,328.8 961.1,328.8 963.1,328.8 965.1,328.8 967.1,328.9 969.1,328.9 971.1,328.9 973.1,328.9 975.1,328.9 977.1,328.9 979.1,329.0 981.1,329.0 983.1,329.0 985.1,329.0 987.1,329.0 989.1,329.0 991.1,329.0 993.1,329.1 995.1,329.1 997.1,329.1 999.1,329.1 1001.1,329.1 1003.1,329.1 1005.1,329.1 1007.1,329.2 1009.1,329.2 1011.1,329.2 1013.1,329.2 1015.1,329.2 1017.1,329.2 1019.1,329.2 1021.1,329.2 1023.1,329.3 1025.1,329.3 1027.1,329.3 1029.1,329.3 1031.1,329.3 1033.1,329.3 1035.1,329.3 1037.1,329.3 1039.1,329.4 1041.1,329.4 1043.1,329.4 1045.1,329.4 1047.1,329.4 1049.1,329.4 1051.1,329.4 1053.1,329.4 1055.1,329.4 1057.1,329.5 1059.1,329.5 1061.0,329.5 1063.0,329.5" stroke="#111" stroke-width="1.5" fill="none"/>
<text transform="translate(695.00,98.70) scale(1,1.06)" class="sl">S07-02_1</text>
<path d="M692.3,95.4L671.9,107.9" stroke="#5c5c5c" stroke-width="1.3"/>
<text transform="translate(709.00,124.60) scale(1,1.06)" class="sl">S07-02_2</text>
<path d="M705.9,121.1L659.2,147.6" stroke="#5c5c5c" stroke-width="1.3"/>
<text transform="translate(727.80,150.70) scale(1,1.06)" class="sl">S07-11</text>
<path d="M721.8,147L664.4,177.4" stroke="#5c5c5c" stroke-width="1.3"/>
<text transform="translate(742.00,173.60) scale(1,1.06)" class="sl">S07-15</text>
<path d="M738.6,168.7L664.1,211.2" stroke="#5c5c5c" stroke-width="1.3"/>
<text transform="translate(758.60,197.90) scale(1,1.06)" class="sl">S07-05</text>
<path d="M754.9,194L677.7,237.7" stroke="#5c5c5c" stroke-width="1.3"/>
<text transform="translate(765.90,224.40) scale(1,1.06)" class="sl">S07-13</text>
<path d="M761.9,219.6L682.7,265" stroke="#5c5c5c" stroke-width="1.3"/>
<text transform="translate(788.30,251.50) scale(1,1.06)" class="sl">S07-08_2</text>
<path d="M785.6,246.7L714.5,288.3" stroke="#5c5c5c" stroke-width="1.3"/>
<text transform="translate(840.90,279.70) scale(1,1.06)" class="sl">S07-26</text>
<path d="M837.5,273.5L765.8,315" stroke="#5c5c5c" stroke-width="1.3"/>
<text transform="translate(638.00,321.50) scale(1,1.06)" class="sl">S07-08_1</text>
<path d="M671.7,297.8L680.1,276.1" stroke="#5c5c5c" stroke-width="1.3"/>
<path d="M94.5,493.2 96.4,492.6 98.2,493.0 99.9,493.8 101.5,493.7 102.7,493.3 103.5,494.6 104.3,496.3 105.7,497.1 107.3,498.0 108.6,499.5 109.7,501.1 110.7,502.8 111.6,504.6 112.4,506.5 113.0,508.4 113.5,510.3 114.0,512.2 114.6,514.1 115.4,516.0 116.3,517.8 117.3,519.5 118.2,521.3 118.9,523.2 119.6,525.0 120.2,526.9 120.8,528.9 121.3,530.8 121.9,532.7 122.5,534.6 123.1,536.5 123.7,538.4 124.3,540.3 125.0,542.2 125.8,544.0 126.7,545.8 127.5,547.6 128.3,549.5 129.0,551.3 129.8,553.2 130.5,555.1 131.2,556.9 131.9,558.8 132.6,560.7 133.3,562.6 134.0,564.4 134.7,566.3 135.4,568.2 136.1,570.1 136.8,571.9 137.5,573.8 138.2,575.7 138.9,577.5 139.6,579.4 140.3,581.3 141.0,583.2 141.7,585.0 142.4,586.9 143.1,588.8 143.8,590.7 144.5,592.5 145.2,594.4 145.9,596.3 146.6,598.2 147.3,600.0 148.1,601.9 148.8,603.7 149.5,605.6 150.3,607.5 151.0,609.3 151.7,611.2 152.5,613.0 153.2,614.9 154.0,616.7 154.8,618.6 155.6,620.4 156.4,622.3 157.2,624.1 158.0,625.9 158.8,627.7 159.6,629.6 160.5,631.4 161.3,633.2 162.2,635.0 163.0,636.8 163.9,638.6 164.8,640.4 165.7,642.2 166.7,643.9 167.8,645.6 168.9,647.3 170.0,648.9 171.1,650.6 172.2,652.2 173.4,653.9 174.6,655.5 175.8,657.0 177.1,658.5 178.5,660.0 179.8,661.5 181.3,662.9 182.7,664.3 184.2,665.6 185.7,666.9 187.3,668.2 188.9,669.4 190.5,670.6 192.2,671.6 194.0,672.5 195.8,673.3 197.6,674.1 199.5,674.8 201.4,675.6 203.2,676.3 205.1,677.0 207.0,677.5 209.0,677.9 210.9,678.3 212.9,678.7 214.9,679.0 216.9,679.3 218.8,679.6 220.8,679.9 222.8,680.1 224.8,680.4 226.8,680.6 228.8,680.9 230.7,681.1 232.7,681.3 234.7,681.5 236.7,681.6 238.7,681.8 240.7,681.9 242.7,682.0 244.7,682.1 246.7,682.2 248.7,682.3 250.7,682.4 252.7,682.5 254.7,682.6 256.7,682.7 258.7,682.8 260.7,682.9 262.7,683.0 264.7,683.0 266.7,683.1 268.7,683.2 270.7,683.3 272.7,683.4 274.7,683.5 276.7,683.5 278.7,683.6 280.7,683.7 282.7,683.8 284.7,683.9 286.7,684.0 288.7,684.1 290.7,684.2 292.7,684.3 294.6,684.5 296.6,684.6 298.6,684.7 300.6,684.8 302.6,685.0 304.6,685.1 306.6,685.2 308.6,685.4 310.6,685.5 312.6,685.7 314.6,685.8 316.6,686.0 318.6,686.1 320.6,686.3 322.6,686.4 324.6,686.6 326.6,686.7 328.6,686.8 330.6,687.0 332.6,687.1 334.5,687.3 336.5,687.4 338.5,687.6 340.5,687.7 342.5,687.9 344.5,688.0 346.5,688.1 348.5,688.3 350.5,688.4 352.5,688.5 354.5,688.7 356.5,688.8 358.5,688.9 360.5,689.0 362.5,689.2 364.5,689.3 366.5,689.4 368.5,689.5 370.5,689.7 372.5,689.8 374.5,689.9 376.5,690.0 378.5,690.2 380.5,690.3 382.4,690.4 384.4,690.5 386.4,690.7 388.4,690.8 390.4,690.9 392.4,691.1 394.4,691.2 396.4,691.4 398.4,691.5 400.4,691.6 402.4,691.8 404.4,692.0 406.4,692.1 408.4,692.3 410.4,692.4 412.4,692.6 414.4,692.8 416.4,692.9 418.3,693.1 420.3,693.3 422.3,693.4 424.3,693.6 426.3,693.8 428.3,694.0 430.3,694.1 432.3,694.3 434.3,694.5 436.3,694.7 438.3,694.8 440.3,695.0 442.3,695.2 444.2,695.4 446.2,695.5 448.2,695.7 450.2,695.9 452.2,696.1 454.2,696.2 456.2,696.4 458.2,696.6 460.2,696.8 462.2,696.9 464.2,697.1 466.2,697.3 468.2,697.5 470.1,697.6 472.1,697.8 474.1,698.0 476.1,698.2 478.1,698.4 480.1,698.5 482.1,698.7 484.1,698.9 486.1,699.1 488.1,699.2 490.1,699.4 492.1,699.6 494.1,699.8 496.0,699.9 498.0,700.1 500.0,700.3 502.0,700.5 504.0,700.6 506.0,700.8 508.0,701.0 510.0,701.2 512.0,701.4 514.0,701.5 516.0,701.7 518.0,701.9 519.9,702.1 521.5,702.2" stroke="#111" stroke-width="1.5" fill="none"/>
<text transform="translate(216.30,589.20) scale(1,1.06)" class="sl">S08-26</text>
<path d="M209.6,590.1L164.1,634.6" stroke="#5c5c5c" stroke-width="1.3"/>
<path d="M636.0,463.5 637.6,465.0 638.9,466.2 640.4,467.6 641.8,469.0 643.3,470.3 644.9,471.6 646.4,472.9 648.0,474.1 649.6,475.3 651.2,476.5 652.8,477.6 654.5,478.8 656.1,479.9 657.8,481.0 659.5,482.1 661.1,483.2 662.8,484.3 664.5,485.3 666.2,486.4 667.9,487.4 669.7,488.4 671.4,489.4 673.1,490.4 674.9,491.4 676.6,492.3 678.4,493.2 680.1,494.3 681.7,495.5 683.1,496.9 684.3,498.5 685.5,500.1 686.6,501.8 687.7,503.4 688.7,505.2 689.8,506.9 690.7,508.6 691.7,510.4 692.5,512.2 693.2,514.1 693.8,516.0 694.4,517.9 694.8,519.8 695.3,521.8 695.7,523.7 696.2,525.7 696.8,527.6 697.4,529.5 698.0,531.4 698.5,533.3 699.1,535.2 699.7,537.2 700.2,539.1 700.7,541.0 701.2,543.0 701.6,544.9 702.0,546.9 702.4,548.8 702.9,550.8 703.3,552.7 703.7,554.7 704.2,556.6 704.6,558.6 705.1,560.5 705.5,562.5 706.0,564.4 706.5,566.4 706.9,568.3 707.4,570.3 707.9,572.2 708.4,574.1 708.9,576.1 709.4,578.0 709.9,579.9 710.5,581.9 711.1,583.8 711.7,585.7 712.3,587.6 712.9,589.5 713.5,591.4 714.2,593.3 714.8,595.2 715.4,597.1 716.0,599.0 716.6,600.9 717.3,602.8 717.9,604.7 718.5,606.6 719.1,608.5 719.7,610.4 720.3,612.3 720.9,614.2 721.5,616.1 722.1,618.0 722.7,620.0 723.2,621.9 723.7,623.8 724.2,625.8 724.7,627.7 725.2,629.6 725.9,631.5 726.7,633.3 727.7,635.1 728.6,636.8 729.7,638.5 730.7,640.2 731.8,641.9 733.0,643.5 734.2,645.1 735.4,646.7 736.7,648.3 738.0,649.7 739.5,651.1 740.9,652.5 742.5,653.8 744.0,655.0 745.6,656.2 747.2,657.4 748.8,658.7 750.3,660.0 751.8,661.3 753.4,662.5 754.9,663.8 756.5,665.0 758.2,666.2 759.8,667.2 761.6,668.2 763.4,669.1 765.2,669.9 767.0,670.7 768.9,671.4 770.8,672.1 772.7,672.8 774.5,673.5 776.4,674.1 778.3,674.7 780.2,675.3 782.2,675.9 784.1,676.5 786.0,677.1 787.9,677.7 789.8,678.2 791.8,678.7 793.7,679.2 795.6,679.8 797.6,680.3 799.5,680.7 801.4,681.2 803.4,681.7 805.3,682.2 807.3,682.7 809.2,683.2 811.1,683.7 813.1,684.2 815.0,684.7 816.9,685.1 818.9,685.6 820.8,686.0 822.8,686.5 824.8,686.8 826.7,687.2 828.7,687.6 830.7,687.9 832.7,688.1 834.6,688.4 836.6,688.6 838.6,688.8 840.6,689.0 842.6,689.2 844.6,689.3 846.6,689.5 848.6,689.6 850.6,689.8 852.6,689.9 854.6,690.1 856.6,690.3 858.6,690.4 860.5,690.6 862.5,690.7 864.5,690.8 866.5,691.0 868.5,691.1 870.5,691.3 872.5,691.4 874.5,691.5 876.5,691.7 878.5,691.8 880.5,691.9 882.5,692.0 884.5,692.2 886.5,692.3 888.5,692.4 890.5,692.5 892.5,692.6 894.5,692.8 896.5,692.9 898.5,693.0 900.5,693.1 902.5,693.1 904.5,693.2 906.5,693.3 908.5,693.4 910.5,693.5 912.5,693.6 914.5,693.7 916.5,693.8 918.4,693.9 920.4,694.0 922.4,694.1 924.4,694.3 926.4,694.4 928.4,694.6 930.4,694.7 932.4,694.9 934.4,695.0 936.4,695.2 938.4,695.3 940.4,695.5 942.4,695.6 944.4,695.8 946.4,696.0 948.4,696.1 950.4,696.3 952.4,696.4 954.4,696.5 956.3,696.7 958.3,696.8 960.3,696.9 962.3,697.0 964.3,697.1 966.3,697.2 968.3,697.3 970.3,697.4 972.3,697.5 974.3,697.6 976.3,697.7 978.3,697.8 980.3,697.9 982.3,697.9 984.3,698.0 986.3,698.1 988.3,698.2 990.3,698.3 992.3,698.4 994.3,698.5 996.3,698.6 998.3,698.7 1000.3,698.8 1002.3,698.9 1004.3,699.0 1006.3,699.1 1008.3,699.2 1010.3,699.3 1012.3,699.4 1014.3,699.5 1016.3,699.6 1018.3,699.7 1020.3,699.8 1022.3,699.9 1024.3,700.0 1026.3,700.1 1028.3,700.2 1030.3,700.3 1032.3,700.4 1034.3,700.6 1036.2,700.6 1038.2,700.7 1040.2,700.8 1042.2,700.9 1044.2,701.0 1046.2,701.1 1048.2,701.2 1050.2,701.3 1052.2,701.4 1054.2,701.5 1056.2,701.6 1058.2,701.7 1060.2,701.8 1061.7,701.9 1063.2,702.0" stroke="#222" stroke-width="1.4" fill="none" stroke-dasharray="3.8 3"/>
<path d="M636.0,565.4 637.3,567.1 638.5,568.5 639.9,569.9 641.5,570.8 643.4,571.1 645.2,571.5 646.7,572.7 647.9,574.2 649.0,575.9 650.1,577.6 651.0,579.3 652.0,581.1 652.9,582.9 653.7,584.7 654.6,586.5 655.4,588.4 656.1,590.2 656.8,592.1 657.5,594.0 658.2,595.8 658.8,597.7 659.5,599.6 660.1,601.5 660.8,603.4 661.5,605.3 662.1,607.2 662.7,609.1 663.3,611.0 664.0,612.9 664.6,614.8 665.2,616.7 665.8,618.6 666.5,620.5 667.1,622.4 667.8,624.3 668.4,626.1 669.1,628.0 669.7,629.9 670.4,631.8 671.1,633.7 671.8,635.6 672.5,637.4 673.4,639.2 674.3,641.0 675.2,642.8 676.2,644.5 677.3,646.2 678.4,647.8 679.6,649.5 680.8,651.1 682.0,652.6 683.3,654.2 684.6,655.7 686.0,657.2 687.4,658.6 688.9,659.9 690.3,661.3 691.8,662.6 693.4,663.9 694.9,665.1 696.5,666.3 698.2,667.5 699.8,668.6 701.6,669.6 703.3,670.5 705.1,671.4 706.9,672.3 708.7,673.1 710.5,674.0 712.3,674.9 714.1,675.8 715.9,676.7 717.7,677.5 719.5,678.4 721.3,679.2 723.2,680.0 725.0,680.8 726.8,681.6 728.7,682.4 730.5,683.2 732.3,684.0 734.2,684.8 736.0,685.6 737.8,686.4 739.7,687.1 741.6,687.9 743.4,688.6 745.3,689.3 747.2,690.0 749.1,690.6 751.0,691.3 752.9,691.9 754.8,692.4 756.7,693.0 758.6,693.5 760.6,694.0 762.5,694.4 764.5,694.9 766.4,695.3 768.4,695.7 770.4,696.1 772.3,696.4 774.3,696.8 776.3,697.1 778.2,697.4 780.2,697.8 782.2,698.1 784.2,698.4 786.1,698.7 788.1,699.0 790.1,699.3 792.1,699.6 794.1,699.9 796.0,700.1 798.0,700.4 800.0,700.7 802.0,701.0 804.0,701.3 805.9,701.5 807.9,701.8 809.9,702.1 811.9,702.3 813.9,702.6 815.9,702.8 817.8,703.0 819.8,703.3 821.8,703.5 823.8,703.7 825.8,703.9 827.8,704.1 829.8,704.3 831.8,704.5 833.8,704.7 835.7,704.9 837.7,705.1 839.7,705.2 841.7,705.4 843.7,705.5 845.7,705.7 847.7,705.8 849.7,705.9 851.7,706.1 853.7,706.2 855.7,706.3 857.7,706.4 859.7,706.6 861.7,706.7 863.7,706.8 865.7,707.0 867.7,707.1 869.7,707.2 871.7,707.4 873.7,707.5 875.7,707.6 877.7,707.7 879.6,707.9 881.6,708.0 883.6,708.1 885.6,708.2 887.6,708.3 889.6,708.4 891.6,708.5 893.6,708.6 895.6,708.6 897.6,708.7 899.6,708.8 901.6,708.9 903.6,708.9 905.6,709.0 907.6,709.0 909.6,709.1 911.6,709.1 913.6,709.2 915.6,709.2 917.6,709.3 919.6,709.3 921.6,709.3 923.6,709.4 925.6,709.4 927.6,709.5 929.6,709.5 931.6,709.5 933.6,709.6 935.6,709.6 937.6,709.6 939.6,709.7 941.6,709.7 943.6,709.7 945.6,709.8 947.6,709.8 949.6,709.8 951.6,709.9 953.6,709.9 955.6,709.9 957.6,710.0 959.6,710.0 961.6,710.0 963.6,710.1 965.6,710.1 967.6,710.1 969.6,710.2 971.6,710.2 973.6,710.2 975.6,710.3 977.6,710.3 979.6,710.3 981.6,710.4 983.6,710.4 985.6,710.5 987.6,710.5 989.6,710.5 991.6,710.6 993.6,710.6 995.6,710.6 997.6,710.7 999.6,710.7 1001.6,710.7 1003.6,710.7 1005.6,710.8 1007.6,710.8 1009.6,710.8 1011.6,710.9 1013.6,710.9 1015.6,710.9 1017.6,711.0 1019.6,711.0 1021.6,711.0 1023.6,711.1 1025.6,711.1 1027.6,711.1 1029.6,711.1 1031.6,711.2 1033.6,711.2 1035.6,711.2 1037.6,711.2 1039.6,711.2 1041.6,711.3 1043.6,711.3 1045.6,711.3 1047.6,711.3 1049.6,711.4 1051.6,711.4 1053.6,711.4 1055.6,711.4 1057.6,711.4 1059.6,711.5 1061.4,711.5 1063.3,711.5" stroke="#222" stroke-width="1.4" fill="none" stroke-dasharray="2.5 2"/>
<path d="M636.0,614.9 637.7,616.2 639.1,617.4 640.6,618.7 642.2,620.0 643.7,621.3 645.2,622.6 646.7,623.9 648.2,625.3 649.6,626.7 651.0,628.1 652.4,629.5 653.7,631.1 654.9,632.6 656.1,634.3 657.2,635.9 658.3,637.6 659.4,639.3 660.5,641.0 661.5,642.6 662.6,644.3 663.7,646.0 664.8,647.7 665.8,649.4 666.8,651.1 667.9,652.8 669.0,654.5 670.2,656.1 671.5,657.6 672.9,659.1 674.3,660.4 675.8,661.7 677.4,662.9 679.0,664.1 680.7,665.3 682.3,666.4 684.0,667.5 685.6,668.6 687.3,669.7 689.1,670.7 690.8,671.7 692.6,672.7 694.3,673.5 696.2,674.4 698.0,675.2 699.8,676.0 701.7,676.7 703.6,677.4 705.4,678.2 707.3,678.9 709.2,679.6 711.0,680.3 712.9,680.9 714.8,681.6 716.7,682.3 718.6,682.9 720.5,683.6 722.3,684.3 724.2,685.1 726.0,685.8 727.9,686.5 729.8,687.3 731.6,688.0 733.5,688.8 735.3,689.5 737.2,690.2 739.1,690.9 741.0,691.5 742.9,692.1 744.8,692.8 746.7,693.3 748.6,693.8 750.6,694.3 752.5,694.7 754.5,695.1 756.5,695.4 758.4,695.8 760.4,696.0 762.4,696.3 764.4,696.6 766.4,696.9 768.3,697.2 770.3,697.5 772.3,697.7 774.3,698.0 776.3,698.3 778.2,698.6 780.2,698.8 782.2,699.1 784.2,699.4 786.2,699.7 788.2,699.9 790.1,700.2 792.1,700.4 794.1,700.7 796.1,700.9 798.1,701.2 800.1,701.4 802.0,701.7 804.0,701.9 806.0,702.2 808.0,702.4 810.0,702.7 812.0,702.9 814.0,703.2 815.9,703.4 817.9,703.6 819.9,703.8 821.9,704.1 823.9,704.3 825.9,704.5 827.9,704.7 829.9,704.8 831.9,705.0 833.8,705.2 835.8,705.3 837.8,705.5 839.8,705.6 841.8,705.8 843.8,705.9 845.8,706.1 847.8,706.2 849.8,706.3 851.8,706.4 853.8,706.5 855.8,706.7 857.8,706.8 859.8,706.9 861.8,707.0 863.8,707.1 865.8,707.2 867.8,707.4 869.8,707.5 871.8,707.6 873.8,707.7 875.8,707.8 877.8,707.9 879.8,708.0 881.8,708.1 883.8,708.2 885.8,708.3 887.8,708.4 889.8,708.5 891.7,708.5 893.7,708.6 895.7,708.7 897.7,708.7 899.7,708.8 901.7,708.8 903.7,708.9 905.7,709.0 907.7,709.0 909.7,709.1 911.7,709.1 913.7,709.2 915.7,709.2 917.7,709.2 919.7,709.3 921.7,709.3 923.7,709.4 925.7,709.4 927.7,709.4 929.7,709.5 931.7,709.5 933.7,709.6 935.7,709.6 937.7,709.6 939.7,709.7 941.7,709.7 943.7,709.7 945.7,709.8 947.7,709.8 949.7,709.9 951.7,709.9 953.7,709.9 955.7,710.0 957.7,710.0 959.7,710.0 961.7,710.1 963.7,710.1 965.7,710.2 967.7,710.2 969.7,710.2 971.7,710.3 973.7,710.3 975.7,710.3 977.7,710.4 979.7,710.4 981.7,710.5 983.7,710.5 985.7,710.5 987.7,710.6 989.7,710.6 991.7,710.7 993.7,710.7 995.7,710.7 997.7,710.8 999.7,710.8 1001.7,710.8 1003.7,710.9 1005.7,710.9 1007.7,711.0 1009.7,711.0 1011.7,711.0 1013.7,711.1 1015.7,711.1 1017.7,711.1 1019.7,711.2 1021.7,711.2 1023.7,711.3 1025.7,711.3 1027.7,711.3 1029.7,711.4 1031.7,711.4 1033.7,711.4 1035.7,711.5 1037.7,711.5 1039.7,711.6 1041.7,711.6 1043.7,711.6 1045.7,711.7 1047.7,711.7 1049.7,711.7 1051.7,711.8 1053.7,711.8 1055.7,711.9 1057.7,711.9 1059.7,711.9 1061.5,712.0 1063.3,712.0" stroke="#111" stroke-width="1.5" fill="none"/>
<path d="M636.0,685.3 638.0,686.1 639.7,686.8 641.6,687.6 643.5,688.2 645.4,688.5 647.4,688.4 649.3,688.1 651.3,687.7 653.3,687.6 655.2,687.8 657.2,688.3 659.1,688.9 661.0,689.6 662.9,690.2 664.8,690.7 666.8,691.0 668.7,691.3 670.7,691.4 672.7,691.6 674.7,691.8 676.7,692.2 678.6,692.6 680.6,693.0 682.5,693.5 684.5,694.0 686.4,694.5 688.3,695.0 690.3,695.5 692.2,696.0 694.1,696.5 696.1,697.0 698.0,697.5 699.9,698.0 701.9,698.5 703.8,699.0 705.8,699.5 707.7,699.9 709.7,700.4 711.6,700.8 713.6,701.2 715.5,701.6 717.5,701.9 719.5,702.2 721.5,702.5 723.4,702.8 725.4,703.1 727.4,703.4 729.4,703.7 731.4,704.0 733.3,704.2 735.3,704.5 737.3,704.8 739.3,705.0 741.3,705.3 743.3,705.5 745.2,705.8 747.2,706.0 749.2,706.3 751.2,706.5 753.2,706.7 755.2,706.9 757.2,707.1 759.2,707.3 761.2,707.4 763.2,707.6 765.1,707.8 767.1,707.9 769.1,708.1 771.1,708.2 773.1,708.3 775.1,708.5 777.1,708.6 779.1,708.7 781.1,708.9 783.1,709.0 785.1,709.1 787.1,709.2 789.1,709.3 791.1,709.5 793.1,709.6 795.1,709.7 797.1,709.8 799.1,709.9 801.1,710.0 803.1,710.1 805.1,710.2 807.1,710.2 809.1,710.3 811.1,710.4 813.1,710.5 815.1,710.6 817.1,710.7 819.1,710.8 821.1,710.8 823.1,710.9 825.1,711.0 827.1,711.1 829.0,711.2 831.0,711.2 833.0,711.3 835.0,711.4 837.0,711.5 839.0,711.5 841.0,711.6 843.0,711.7 845.0,711.7 847.0,711.8 849.0,711.9 851.0,711.9 853.0,712.0 855.0,712.1 857.0,712.1 859.0,712.2 861.0,712.2 863.0,712.3 865.0,712.4 867.0,712.4 869.0,712.5 871.0,712.6 873.0,712.6 875.0,712.7 877.0,712.7 879.0,712.8 881.0,712.8 883.0,712.9 885.0,712.9 887.0,713.0 889.0,713.0 891.0,713.1 893.0,713.1 895.0,713.1 897.0,713.2 899.0,713.2 901.0,713.2 903.0,713.2 905.0,713.3 907.0,713.3 909.0,713.3 911.0,713.3 913.0,713.4 915.0,713.4 917.0,713.4 919.0,713.4 921.0,713.4 923.0,713.4 925.0,713.5 927.0,713.5 929.0,713.5 931.0,713.5 933.0,713.5 935.0,713.5 937.0,713.5 939.0,713.6 941.0,713.6 943.0,713.6 945.0,713.6 947.0,713.6 949.0,713.6 951.0,713.6 953.0,713.6 955.0,713.7 957.0,713.7 959.0,713.7 961.0,713.7 963.0,713.7 965.0,713.7 967.0,713.7 969.0,713.7 971.0,713.7 973.0,713.8 975.0,713.8 977.0,713.8 979.0,713.8 981.0,713.8 983.0,713.8 985.0,713.8 987.0,713.8 989.0,713.9 991.0,713.9 993.0,713.9 995.0,713.9 997.0,713.9 999.0,713.9 1001.0,713.9 1003.0,713.9 1005.0,713.9 1007.0,713.9 1009.0,714.0 1011.0,714.0 1013.0,714.0 1015.0,714.0 1017.0,714.0 1019.0,714.0 1021.0,714.0 1023.0,714.0 1025.0,714.0 1027.0,714.0 1029.0,714.0 1031.0,714.1 1033.0,714.1 1035.0,714.1 1037.0,714.1 1039.0,714.1 1041.0,714.1 1043.0,714.1 1045.0,714.1 1047.0,714.1 1049.0,714.1 1051.0,714.1 1053.0,714.2 1055.0,714.2 1057.0,714.2 1059.0,714.2 1061.0,714.2 1062.4,714.2 1063.3,714.2" stroke="#222" stroke-width="1.5" fill="none" stroke-dasharray="3.6 1.6"/>
<text transform="translate(754.80,579.00) scale(1,1.06)" class="sl">S07-16</text>
<path d="M757.4,583.5L720.8,614.3" stroke="#5c5c5c" stroke-width="1.3"/>
<text transform="translate(772.20,616.10) scale(1,1.06)" class="sl">S08-23</text>
<path d="M774.3,624.3L717.2,678.6" stroke="#5c5c5c" stroke-width="1.3"/>
<text transform="translate(807.00,647.50) scale(1,1.06)" class="sl">S07-01</text>
<path d="M804.7,655L764.2,695" stroke="#5c5c5c" stroke-width="1.3"/>
<text transform="translate(867.20,671.70) scale(1,1.06)" class="sl">S08-28</text>
<path d="M862.5,665.8L821.7,710.8" stroke="#5c5c5c" stroke-width="1.3"/>
<path d="M739.4,56.0H775" stroke="#222" stroke-width="1.7"/>
<path d="M732.4,56.0L742.9,52.0L740.6999999999999,56.0L742.9,60.0Z" fill="#111" stroke="#111" stroke-width="0.4" stroke-linejoin="round"/>
<text transform="translate(779.20,62.20) scale(1,1.04)" class="sw">Solar wind-damaged zone</text>
<path d="M169.5,471.5H205" stroke="#222" stroke-width="1.7"/>
<path d="M162.5,471.5L173.0,467.5L170.8,471.5L173.0,475.5Z" fill="#111" stroke="#111" stroke-width="0.4" stroke-linejoin="round"/>
<text transform="translate(207.00,477.00) scale(1,1.04)" class="sw">Solar wind-damaged zone</text>
<path d="M729,472.9H764.4" stroke="#222" stroke-width="1.7"/>
<path d="M722,472.9L732.5,468.9L730.3,472.9L732.5,476.9Z" fill="#111" stroke="#111" stroke-width="0.4" stroke-linejoin="round"/>
<text transform="translate(770.20,477.70) scale(1,1.04)" class="sw">Solar wind-damaged zone</text>
</svg>
</body></html>
